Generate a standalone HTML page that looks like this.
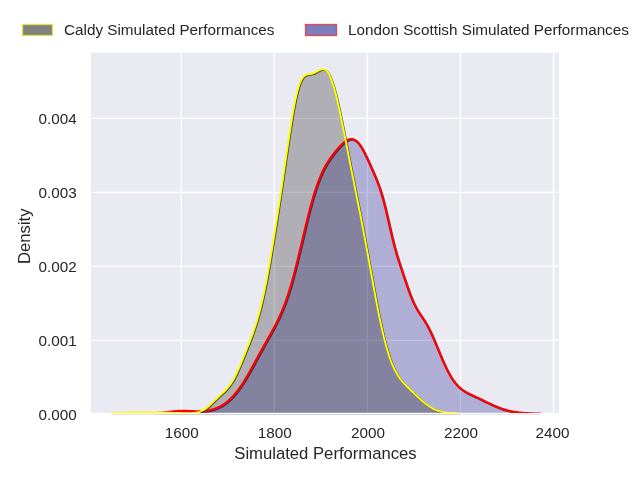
<!DOCTYPE html>
<html><head><meta charset="utf-8"><style>
html,body{margin:0;padding:0;background:#fff;width:640px;height:480px;overflow:hidden}
svg{display:block;will-change:transform}
.t{font-family:"Liberation Sans",sans-serif;font-size:15.28px;fill:#262626}
.l{font-family:"Liberation Sans",sans-serif;font-size:16.67px;fill:#262626}
</style></head><body>
<svg width="640" height="480" viewBox="0 0 640 480">
<defs>
<clipPath id="ax"><rect x="91" y="52.8" width="468" height="360.0"/></clipPath>
<clipPath id="axl"><rect x="91" y="52.8" width="468" height="360.1"/></clipPath>
<clipPath id="strip"><rect x="91" y="414.0" width="468" height="1.0"/></clipPath>
</defs>
<rect x="91" y="52.8" width="468" height="360.0" fill="#eaeaf2"/>
<line x1="181.2" y1="52.8" x2="181.2" y2="412.8" stroke="#fff" stroke-width="1.39"/><line x1="274.3" y1="52.8" x2="274.3" y2="412.8" stroke="#fff" stroke-width="1.39"/><line x1="367.4" y1="52.8" x2="367.4" y2="412.8" stroke="#fff" stroke-width="1.39"/><line x1="460.5" y1="52.8" x2="460.5" y2="412.8" stroke="#fff" stroke-width="1.39"/><line x1="553.6" y1="52.8" x2="553.6" y2="412.8" stroke="#fff" stroke-width="1.39"/><line x1="91" y1="340.4" x2="559" y2="340.4" stroke="#fff" stroke-width="1.39"/><line x1="91" y1="266.4" x2="559" y2="266.4" stroke="#fff" stroke-width="1.39"/><line x1="91" y1="192.4" x2="559" y2="192.4" stroke="#fff" stroke-width="1.39"/><line x1="91" y1="118.4" x2="559" y2="118.4" stroke="#fff" stroke-width="1.39"/>
<g clip-path="url(#ax)">
<path d="M153.75,413.14 L154.25,413.12 L154.75,413.09 L155.25,413.07 L155.75,413.05 L156.25,413.02 L156.75,413.00 L157.25,412.97 L157.75,412.94 L158.25,412.91 L158.75,412.87 L159.25,412.84 L159.75,412.80 L160.25,412.77 L160.75,412.73 L161.25,412.69 L161.75,412.65 L162.25,412.60 L162.75,412.56 L163.25,412.51 L163.75,412.46 L164.25,412.41 L164.75,412.36 L165.25,412.31 L165.75,412.26 L166.25,412.20 L166.75,412.15 L167.25,412.09 L167.75,412.04 L168.25,411.98 L168.75,411.92 L169.25,411.86 L169.75,411.80 L170.25,411.75 L170.75,411.69 L171.25,411.63 L171.75,411.57 L172.25,411.52 L172.75,411.46 L173.25,411.41 L173.75,411.36 L174.25,411.31 L174.75,411.26 L175.25,411.21 L175.75,411.17 L176.25,411.12 L176.75,411.08 L177.25,411.05 L177.75,411.01 L178.25,410.98 L178.75,410.95 L179.25,410.93 L179.75,410.90 L180.25,410.88 L180.75,410.87 L181.25,410.85 L181.75,410.84 L182.25,410.84 L182.75,410.83 L183.25,410.83 L183.75,410.84 L184.25,410.84 L184.75,410.85 L185.25,410.86 L185.75,410.87 L186.25,410.89 L186.75,410.90 L187.25,410.92 L187.75,410.94 L188.25,410.96 L188.75,410.99 L189.25,411.01 L189.75,411.04 L190.25,411.06 L190.75,411.09 L191.25,411.11 L191.75,411.14 L192.25,411.16 L192.75,411.18 L193.25,411.21 L193.75,411.23 L194.25,411.25 L194.75,411.26 L195.25,411.28 L195.75,411.29 L196.25,411.30 L196.75,411.31 L197.25,411.32 L197.75,411.32 L198.25,411.32 L198.75,411.32 L199.25,411.31 L199.75,411.30 L200.25,411.29 L200.75,411.27 L201.25,411.25 L201.75,411.22 L202.25,411.19 L202.75,411.16 L203.25,411.12 L203.75,411.07 L204.25,411.02 L204.75,410.97 L205.25,410.91 L205.75,410.85 L206.25,410.78 L206.75,410.71 L207.25,410.63 L207.75,410.55 L208.25,410.46 L208.75,410.37 L209.25,410.27 L209.75,410.16 L210.25,410.05 L210.75,409.93 L211.25,409.81 L211.75,409.68 L212.25,409.54 L212.75,409.40 L213.25,409.25 L213.75,409.09 L214.25,408.93 L214.75,408.76 L215.25,408.58 L215.75,408.40 L216.25,408.21 L216.75,408.01 L217.25,407.80 L217.75,407.58 L218.25,407.36 L218.75,407.13 L219.25,406.88 L219.75,406.63 L220.25,406.38 L220.75,406.11 L221.25,405.83 L221.75,405.54 L222.25,405.25 L222.75,404.94 L223.25,404.62 L223.75,404.30 L224.25,403.96 L224.75,403.61 L225.25,403.26 L225.75,402.89 L226.25,402.51 L226.75,402.12 L227.25,401.71 L227.75,401.30 L228.25,400.87 L228.75,400.44 L229.25,399.99 L229.75,399.53 L230.25,399.05 L230.75,398.57 L231.25,398.07 L231.75,397.56 L232.25,397.04 L232.75,396.51 L233.25,395.96 L233.75,395.40 L234.25,394.83 L234.75,394.25 L235.25,393.65 L235.75,393.04 L236.25,392.42 L236.75,391.79 L237.25,391.14 L237.75,390.49 L238.25,389.82 L238.75,389.14 L239.25,388.44 L239.75,387.74 L240.25,387.02 L240.75,386.30 L241.25,385.56 L241.75,384.81 L242.25,384.05 L242.75,383.28 L243.25,382.50 L243.75,381.71 L244.25,380.92 L244.75,380.11 L245.25,379.29 L245.75,378.47 L246.25,377.63 L246.75,376.79 L247.25,375.94 L247.75,375.08 L248.25,374.22 L248.75,373.35 L249.25,372.48 L249.75,371.59 L250.25,370.71 L250.75,369.82 L251.25,368.92 L251.75,368.02 L252.25,367.12 L252.75,366.21 L253.25,365.30 L253.75,364.39 L254.25,363.47 L254.75,362.56 L255.25,361.64 L255.75,360.72 L256.25,359.80 L256.75,358.88 L257.25,357.96 L257.75,357.05 L258.25,356.13 L258.75,355.21 L259.25,354.30 L259.75,353.38 L260.25,352.47 L260.75,351.56 L261.25,350.65 L261.75,349.74 L262.25,348.83 L262.75,347.93 L263.25,347.03 L263.75,346.13 L264.25,345.23 L264.75,344.34 L265.25,343.44 L265.75,342.55 L266.25,341.66 L266.75,340.77 L267.25,339.88 L267.75,339.00 L268.25,338.11 L268.75,337.22 L269.25,336.33 L269.75,335.44 L270.25,334.55 L270.75,333.65 L271.25,332.75 L271.75,331.85 L272.25,330.94 L272.75,330.03 L273.25,329.11 L273.75,328.18 L274.25,327.25 L274.75,326.31 L275.25,325.35 L275.75,324.39 L276.25,323.42 L276.75,322.43 L277.25,321.43 L277.75,320.41 L278.25,319.38 L278.75,318.33 L279.25,317.27 L279.75,316.18 L280.25,315.08 L280.75,313.95 L281.25,312.81 L281.75,311.64 L282.25,310.45 L282.75,309.23 L283.25,307.99 L283.75,306.72 L284.25,305.43 L284.75,304.11 L285.25,302.76 L285.75,301.38 L286.25,299.97 L286.75,298.54 L287.25,297.07 L287.75,295.57 L288.25,294.05 L288.75,292.49 L289.25,290.90 L289.75,289.28 L290.25,287.62 L290.75,285.94 L291.25,284.23 L291.75,282.49 L292.25,280.72 L292.75,278.91 L293.25,277.09 L293.75,275.23 L294.25,273.35 L294.75,271.44 L295.25,269.50 L295.75,267.55 L296.25,265.57 L296.75,263.57 L297.25,261.55 L297.75,259.51 L298.25,257.45 L298.75,255.38 L299.25,253.30 L299.75,251.21 L300.25,249.10 L300.75,246.99 L301.25,244.87 L301.75,242.75 L302.25,240.62 L302.75,238.50 L303.25,236.37 L303.75,234.25 L304.25,232.14 L304.75,230.03 L305.25,227.94 L305.75,225.85 L306.25,223.78 L306.75,221.72 L307.25,219.68 L307.75,217.66 L308.25,215.66 L308.75,213.68 L309.25,211.72 L309.75,209.80 L310.25,207.89 L310.75,206.02 L311.25,204.17 L311.75,202.36 L312.25,200.58 L312.75,198.83 L313.25,197.11 L313.75,195.43 L314.25,193.78 L314.75,192.17 L315.25,190.60 L315.75,189.06 L316.25,187.55 L316.75,186.09 L317.25,184.66 L317.75,183.26 L318.25,181.91 L318.75,180.59 L319.25,179.30 L319.75,178.05 L320.25,176.84 L320.75,175.65 L321.25,174.50 L321.75,173.39 L322.25,172.30 L322.75,171.25 L323.25,170.22 L323.75,169.23 L324.25,168.26 L324.75,167.32 L325.25,166.40 L325.75,165.51 L326.25,164.64 L326.75,163.79 L327.25,162.96 L327.75,162.16 L328.25,161.37 L328.75,160.60 L329.25,159.84 L329.75,159.10 L330.25,158.38 L330.75,157.67 L331.25,156.97 L331.75,156.28 L332.25,155.61 L332.75,154.94 L333.25,154.29 L333.75,153.64 L334.25,153.00 L334.75,152.37 L335.25,151.76 L335.75,151.14 L336.25,150.54 L336.75,149.95 L337.25,149.36 L337.75,148.78 L338.25,148.21 L338.75,147.65 L339.25,147.10 L339.75,146.56 L340.25,146.03 L340.75,145.51 L341.25,145.00 L341.75,144.50 L342.25,144.02 L342.75,143.56 L343.25,143.11 L343.75,142.68 L344.25,142.26 L344.75,141.87 L345.25,141.49 L345.75,141.14 L346.25,140.81 L346.75,140.50 L347.25,140.22 L347.75,139.97 L348.25,139.75 L348.75,139.55 L349.25,139.39 L349.75,139.26 L350.25,139.16 L350.75,139.10 L351.25,139.07 L351.75,139.08 L352.25,139.13 L352.75,139.21 L353.25,139.34 L353.75,139.50 L354.25,139.71 L354.75,139.96 L355.25,140.26 L355.75,140.59 L356.25,140.97 L356.75,141.39 L357.25,141.85 L357.75,142.36 L358.25,142.91 L358.75,143.50 L359.25,144.13 L359.75,144.80 L360.25,145.51 L360.75,146.26 L361.25,147.04 L361.75,147.86 L362.25,148.71 L362.75,149.60 L363.25,150.51 L363.75,151.45 L364.25,152.41 L364.75,153.40 L365.25,154.41 L365.75,155.44 L366.25,156.49 L366.75,157.55 L367.25,158.62 L367.75,159.71 L368.25,160.80 L368.75,161.90 L369.25,163.00 L369.75,164.11 L370.25,165.23 L370.75,166.35 L371.25,167.47 L371.75,168.59 L372.25,169.72 L372.75,170.85 L373.25,171.99 L373.75,173.14 L374.25,174.29 L374.75,175.46 L375.25,176.64 L375.75,177.84 L376.25,179.06 L376.75,180.30 L377.25,181.57 L377.75,182.87 L378.25,184.20 L378.75,185.57 L379.25,186.98 L379.75,188.44 L380.25,189.93 L380.75,191.48 L381.25,193.08 L381.75,194.73 L382.25,196.43 L382.75,198.18 L383.25,199.99 L383.75,201.85 L384.25,203.76 L384.75,205.72 L385.25,207.72 L385.75,209.76 L386.25,211.84 L386.75,213.95 L387.25,216.09 L387.75,218.25 L388.25,220.43 L388.75,222.61 L389.25,224.80 L389.75,226.98 L390.25,229.16 L390.75,231.31 L391.25,233.45 L391.75,235.57 L392.25,237.65 L392.75,239.69 L393.25,241.70 L393.75,243.67 L394.25,245.60 L394.75,247.48 L395.25,249.32 L395.75,251.12 L396.25,252.87 L396.75,254.59 L397.25,256.26 L397.75,257.90 L398.25,259.51 L398.75,261.09 L399.25,262.65 L399.75,264.18 L400.25,265.70 L400.75,267.20 L401.25,268.70 L401.75,270.18 L402.25,271.66 L402.75,273.14 L403.25,274.61 L403.75,276.09 L404.25,277.56 L404.75,279.04 L405.25,280.51 L405.75,281.98 L406.25,283.45 L406.75,284.91 L407.25,286.36 L407.75,287.80 L408.25,289.22 L408.75,290.62 L409.25,292.01 L409.75,293.37 L410.25,294.70 L410.75,296.00 L411.25,297.27 L411.75,298.50 L412.25,299.70 L412.75,300.86 L413.25,301.99 L413.75,303.07 L414.25,304.12 L414.75,305.13 L415.25,306.11 L415.75,307.05 L416.25,307.96 L416.75,308.84 L417.25,309.69 L417.75,310.52 L418.25,311.32 L418.75,312.11 L419.25,312.88 L419.75,313.64 L420.25,314.39 L420.75,315.13 L421.25,315.88 L421.75,316.62 L422.25,317.37 L422.75,318.12 L423.25,318.88 L423.75,319.65 L424.25,320.44 L424.75,321.24 L425.25,322.06 L425.75,322.89 L426.25,323.75 L426.75,324.63 L427.25,325.52 L427.75,326.44 L428.25,327.38 L428.75,328.34 L429.25,329.33 L429.75,330.33 L430.25,331.36 L430.75,332.40 L431.25,333.47 L431.75,334.56 L432.25,335.66 L432.75,336.78 L433.25,337.91 L433.75,339.06 L434.25,340.23 L434.75,341.40 L435.25,342.59 L435.75,343.78 L436.25,344.98 L436.75,346.19 L437.25,347.39 L437.75,348.61 L438.25,349.82 L438.75,351.03 L439.25,352.24 L439.75,353.45 L440.25,354.65 L440.75,355.84 L441.25,357.03 L441.75,358.21 L442.25,359.37 L442.75,360.52 L443.25,361.66 L443.75,362.79 L444.25,363.90 L444.75,364.99 L445.25,366.07 L445.75,367.12 L446.25,368.16 L446.75,369.18 L447.25,370.17 L447.75,371.14 L448.25,372.10 L448.75,373.03 L449.25,373.93 L449.75,374.82 L450.25,375.68 L450.75,376.51 L451.25,377.32 L451.75,378.11 L452.25,378.88 L452.75,379.62 L453.25,380.34 L453.75,381.03 L454.25,381.70 L454.75,382.35 L455.25,382.98 L455.75,383.58 L456.25,384.17 L456.75,384.73 L457.25,385.27 L457.75,385.79 L458.25,386.29 L458.75,386.78 L459.25,387.25 L459.75,387.69 L460.25,388.13 L460.75,388.54 L461.25,388.95 L461.75,389.33 L462.25,389.71 L462.75,390.07 L463.25,390.41 L463.75,390.75 L464.25,391.08 L464.75,391.39 L465.25,391.70 L465.75,391.99 L466.25,392.28 L466.75,392.56 L467.25,392.84 L467.75,393.11 L468.25,393.37 L468.75,393.63 L469.25,393.88 L469.75,394.13 L470.25,394.37 L470.75,394.61 L471.25,394.85 L471.75,395.09 L472.25,395.33 L472.75,395.56 L473.25,395.79 L473.75,396.02 L474.25,396.25 L474.75,396.48 L475.25,396.71 L475.75,396.94 L476.25,397.18 L476.75,397.41 L477.25,397.64 L477.75,397.87 L478.25,398.10 L478.75,398.34 L479.25,398.57 L479.75,398.81 L480.25,399.04 L480.75,399.28 L481.25,399.52 L481.75,399.76 L482.25,400.00 L482.75,400.24 L483.25,400.48 L483.75,400.72 L484.25,400.96 L484.75,401.21 L485.25,401.45 L485.75,401.69 L486.25,401.93 L486.75,402.18 L487.25,402.42 L487.75,402.66 L488.25,402.90 L488.75,403.14 L489.25,403.38 L489.75,403.62 L490.25,403.86 L490.75,404.09 L491.25,404.33 L491.75,404.56 L492.25,404.79 L492.75,405.02 L493.25,405.25 L493.75,405.47 L494.25,405.69 L494.75,405.91 L495.25,406.13 L495.75,406.35 L496.25,406.56 L496.75,406.77 L497.25,406.97 L497.75,407.17 L498.25,407.37 L498.75,407.57 L499.25,407.76 L499.75,407.95 L500.25,408.14 L500.75,408.32 L501.25,408.50 L501.75,408.67 L502.25,408.84 L502.75,409.01 L503.25,409.17 L503.75,409.33 L504.25,409.49 L504.75,409.64 L505.25,409.79 L505.75,409.93 L506.25,410.07 L506.75,410.21 L507.25,410.34 L507.75,410.47 L508.25,410.60 L508.75,410.72 L509.25,410.84 L509.75,410.96 L510.25,411.07 L510.75,411.17 L511.25,411.28 L511.75,411.38 L512.25,411.48 L512.75,411.57 L513.25,411.66 L513.75,411.75 L514.25,411.84 L514.75,411.92 L515.25,412.00 L515.75,412.07 L516.25,412.15 L516.75,412.22 L517.25,412.29 L517.75,412.35 L518.25,412.42 L518.75,412.48 L519.25,412.53 L519.75,412.59 L520.25,412.64 L520.75,412.69 L521.25,412.74 L521.75,412.79 L522.25,412.84 L522.75,412.88 L523.25,412.92 L523.75,412.96 L524.25,413.00 L524.75,413.04 L525.25,413.07 L525.75,413.10 L526.25,413.14 L526.75,413.17 L527.25,413.20 L527.75,413.22 L528.25,413.25 L528.75,413.28 L529.25,413.30 L529.75,413.32 L530.25,413.35 L530.75,413.37 L531.25,413.39 L531.75,413.41 L532.25,413.43 L532.75,413.44 L533.25,413.46 L533.75,413.48 L534.25,413.49 L534.75,413.51 L535.25,413.52 L535.75,413.54 L536.25,413.55 L536.75,413.56 L537.25,413.57 L537.75,413.58 L538.25,413.60 L538.75,413.61 L539.25,413.62 L539.75,413.63 L540.25,413.64 L540.75,413.65 L541,415.3 L154,415.3 Z" fill="#000080" fill-opacity="0.25"/>
<path d="M110.75,413.14 L111.25,413.13 L111.75,413.11 L112.25,413.10 L112.75,413.08 L113.25,413.07 L113.75,413.05 L114.25,413.03 L114.75,413.02 L115.25,413.00 L115.75,412.99 L116.25,412.97 L116.75,412.96 L117.25,412.94 L117.75,412.93 L118.25,412.91 L118.75,412.90 L119.25,412.88 L119.75,412.87 L120.25,412.85 L120.75,412.84 L121.25,412.82 L121.75,412.81 L122.25,412.80 L122.75,412.78 L123.25,412.77 L123.75,412.75 L124.25,412.74 L124.75,412.73 L125.25,412.71 L125.75,412.70 L126.25,412.69 L126.75,412.68 L127.25,412.66 L127.75,412.65 L128.25,412.64 L128.75,412.63 L129.25,412.62 L129.75,412.61 L130.25,412.60 L130.75,412.58 L131.25,412.57 L131.75,412.56 L132.25,412.55 L132.75,412.55 L133.25,412.54 L133.75,412.53 L134.25,412.52 L134.75,412.51 L135.25,412.50 L135.75,412.49 L136.25,412.49 L136.75,412.48 L137.25,412.47 L137.75,412.47 L138.25,412.46 L138.75,412.46 L139.25,412.45 L139.75,412.44 L140.25,412.44 L140.75,412.44 L141.25,412.43 L141.75,412.43 L142.25,412.42 L142.75,412.42 L143.25,412.42 L143.75,412.42 L144.25,412.41 L144.75,412.41 L145.25,412.41 L145.75,412.41 L146.25,412.41 L146.75,412.41 L147.25,412.41 L147.75,412.41 L148.25,412.41 L148.75,412.41 L149.25,412.41 L149.75,412.42 L150.25,412.42 L150.75,412.42 L151.25,412.42 L151.75,412.43 L152.25,412.43 L152.75,412.44 L153.25,412.44 L153.75,412.44 L154.25,412.45 L154.75,412.46 L155.25,412.46 L155.75,412.47 L156.25,412.47 L156.75,412.48 L157.25,412.49 L157.75,412.50 L158.25,412.50 L158.75,412.51 L159.25,412.52 L159.75,412.53 L160.25,412.54 L160.75,412.55 L161.25,412.56 L161.75,412.57 L162.25,412.58 L162.75,412.59 L163.25,412.60 L163.75,412.61 L164.25,412.62 L164.75,412.63 L165.25,412.64 L165.75,412.65 L166.25,412.66 L166.75,412.68 L167.25,412.69 L167.75,412.70 L168.25,412.72 L168.75,412.73 L169.25,412.74 L169.75,412.75 L170.25,412.77 L170.75,412.78 L171.25,412.80 L171.75,412.81 L172.25,412.82 L172.75,412.84 L173.25,412.85 L173.75,412.87 L174.25,412.88 L174.75,412.90 L175.25,412.91 L175.75,412.93 L176.25,412.94 L176.75,412.96 L177.25,412.97 L177.75,412.99 L178.25,413.00 L178.75,413.02 L179.25,413.03 L179.75,413.05 L180.25,413.06 L180.75,413.07 L181.25,413.09 L181.75,413.10 L182.25,413.11 L182.75,413.13 L183.25,413.14 L183.75,413.15 L184.25,413.16 L184.75,413.17 L185.25,413.18 L185.75,413.19 L186.25,413.20 L186.75,413.20 L187.25,413.21 L187.75,413.21 L188.25,413.21 L188.75,413.21 L189.25,413.20 L189.75,413.20 L190.25,413.18 L190.75,413.17 L191.25,413.15 L191.75,413.13 L192.25,413.10 L192.75,413.07 L193.25,413.03 L193.75,412.99 L194.25,412.94 L194.75,412.88 L195.25,412.81 L195.75,412.74 L196.25,412.66 L196.75,412.56 L197.25,412.46 L197.75,412.34 L198.25,412.22 L198.75,412.08 L199.25,411.93 L199.75,411.77 L200.25,411.59 L200.75,411.39 L201.25,411.19 L201.75,410.97 L202.25,410.73 L202.75,410.47 L203.25,410.20 L203.75,409.92 L204.25,409.61 L204.75,409.30 L205.25,408.96 L205.75,408.61 L206.25,408.25 L206.75,407.87 L207.25,407.47 L207.75,407.06 L208.25,406.64 L208.75,406.21 L209.25,405.76 L209.75,405.31 L210.25,404.84 L210.75,404.37 L211.25,403.89 L211.75,403.41 L212.25,402.92 L212.75,402.42 L213.25,401.93 L213.75,401.43 L214.25,400.93 L214.75,400.44 L215.25,399.94 L215.75,399.45 L216.25,398.96 L216.75,398.48 L217.25,398.00 L217.75,397.52 L218.25,397.05 L218.75,396.58 L219.25,396.12 L219.75,395.65 L220.25,395.20 L220.75,394.74 L221.25,394.29 L221.75,393.83 L222.25,393.38 L222.75,392.92 L223.25,392.45 L223.75,391.99 L224.25,391.51 L224.75,391.03 L225.25,390.53 L225.75,390.02 L226.25,389.50 L226.75,388.96 L227.25,388.41 L227.75,387.83 L228.25,387.23 L228.75,386.61 L229.25,385.97 L229.75,385.30 L230.25,384.61 L230.75,383.88 L231.25,383.13 L231.75,382.36 L232.25,381.55 L232.75,380.72 L233.25,379.85 L233.75,378.96 L234.25,378.04 L234.75,377.10 L235.25,376.12 L235.75,375.13 L236.25,374.10 L236.75,373.06 L237.25,371.99 L237.75,370.90 L238.25,369.79 L238.75,368.66 L239.25,367.51 L239.75,366.35 L240.25,365.18 L240.75,363.99 L241.25,362.80 L241.75,361.59 L242.25,360.38 L242.75,359.16 L243.25,357.93 L243.75,356.70 L244.25,355.46 L244.75,354.22 L245.25,352.97 L245.75,351.72 L246.25,350.47 L246.75,349.22 L247.25,347.96 L247.75,346.70 L248.25,345.43 L248.75,344.15 L249.25,342.87 L249.75,341.58 L250.25,340.28 L250.75,338.97 L251.25,337.65 L251.75,336.31 L252.25,334.95 L252.75,333.57 L253.25,332.18 L253.75,330.76 L254.25,329.31 L254.75,327.83 L255.25,326.33 L255.75,324.79 L256.25,323.21 L256.75,321.60 L257.25,319.95 L257.75,318.25 L258.25,316.51 L258.75,314.73 L259.25,312.90 L259.75,311.02 L260.25,309.09 L260.75,307.11 L261.25,305.08 L261.75,302.99 L262.25,300.85 L262.75,298.66 L263.25,296.41 L263.75,294.11 L264.25,291.76 L264.75,289.35 L265.25,286.89 L265.75,284.39 L266.25,281.83 L266.75,279.22 L267.25,276.57 L267.75,273.88 L268.25,271.14 L268.75,268.35 L269.25,265.53 L269.75,262.68 L270.25,259.78 L270.75,256.86 L271.25,253.90 L271.75,250.91 L272.25,247.89 L272.75,244.85 L273.25,241.78 L273.75,238.69 L274.25,235.58 L274.75,232.45 L275.25,229.29 L275.75,226.12 L276.25,222.93 L276.75,219.73 L277.25,216.50 L277.75,213.26 L278.25,210.01 L278.75,206.74 L279.25,203.45 L279.75,200.15 L280.25,196.83 L280.75,193.49 L281.25,190.15 L281.75,186.78 L282.25,183.41 L282.75,180.02 L283.25,176.62 L283.75,173.21 L284.25,169.79 L284.75,166.36 L285.25,162.94 L285.75,159.51 L286.25,156.08 L286.75,152.66 L287.25,149.25 L287.75,145.85 L288.25,142.47 L288.75,139.12 L289.25,135.80 L289.75,132.51 L290.25,129.27 L290.75,126.07 L291.25,122.93 L291.75,119.85 L292.25,116.84 L292.75,113.91 L293.25,111.06 L293.75,108.29 L294.25,105.62 L294.75,103.05 L295.25,100.58 L295.75,98.23 L296.25,95.98 L296.75,93.86 L297.25,91.85 L297.75,89.96 L298.25,88.20 L298.75,86.56 L299.25,85.04 L299.75,83.65 L300.25,82.38 L300.75,81.22 L301.25,80.18 L301.75,79.24 L302.25,78.42 L302.75,77.69 L303.25,77.06 L303.75,76.51 L304.25,76.04 L304.75,75.65 L305.25,75.32 L305.75,75.05 L306.25,74.83 L306.75,74.66 L307.25,74.51 L307.75,74.40 L308.25,74.31 L308.75,74.23 L309.25,74.16 L309.75,74.09 L310.25,74.01 L310.75,73.94 L311.25,73.84 L311.75,73.74 L312.25,73.62 L312.75,73.47 L313.25,73.31 L313.75,73.13 L314.25,72.93 L314.75,72.70 L315.25,72.46 L315.75,72.21 L316.25,71.94 L316.75,71.66 L317.25,71.38 L317.75,71.09 L318.25,70.80 L318.75,70.52 L319.25,70.26 L319.75,70.01 L320.25,69.78 L320.75,69.58 L321.25,69.42 L321.75,69.29 L322.25,69.20 L322.75,69.16 L323.25,69.18 L323.75,69.25 L324.25,69.39 L324.75,69.59 L325.25,69.86 L325.75,70.20 L326.25,70.62 L326.75,71.11 L327.25,71.69 L327.75,72.35 L328.25,73.09 L328.75,73.92 L329.25,74.83 L329.75,75.83 L330.25,76.91 L330.75,78.08 L331.25,79.33 L331.75,80.67 L332.25,82.08 L332.75,83.58 L333.25,85.15 L333.75,86.80 L334.25,88.53 L334.75,90.32 L335.25,92.18 L335.75,94.11 L336.25,96.09 L336.75,98.14 L337.25,100.24 L337.75,102.39 L338.25,104.59 L338.75,106.84 L339.25,109.12 L339.75,111.45 L340.25,113.80 L340.75,116.19 L341.25,118.61 L341.75,121.06 L342.25,123.52 L342.75,126.00 L343.25,128.50 L343.75,131.02 L344.25,133.54 L344.75,136.08 L345.25,138.62 L345.75,141.16 L346.25,143.71 L346.75,146.26 L347.25,148.81 L347.75,151.36 L348.25,153.91 L348.75,156.45 L349.25,158.99 L349.75,161.53 L350.25,164.06 L350.75,166.59 L351.25,169.11 L351.75,171.63 L352.25,174.14 L352.75,176.65 L353.25,179.16 L353.75,181.66 L354.25,184.16 L354.75,186.67 L355.25,189.17 L355.75,191.67 L356.25,194.17 L356.75,196.68 L357.25,199.19 L357.75,201.70 L358.25,204.22 L358.75,206.75 L359.25,209.28 L359.75,211.83 L360.25,214.38 L360.75,216.95 L361.25,219.52 L361.75,222.11 L362.25,224.71 L362.75,227.32 L363.25,229.95 L363.75,232.59 L364.25,235.24 L364.75,237.91 L365.25,240.58 L365.75,243.28 L366.25,245.98 L366.75,248.70 L367.25,251.42 L367.75,254.16 L368.25,256.90 L368.75,259.66 L369.25,262.42 L369.75,265.18 L370.25,267.95 L370.75,270.72 L371.25,273.49 L371.75,276.26 L372.25,279.02 L372.75,281.78 L373.25,284.53 L373.75,287.27 L374.25,289.99 L374.75,292.70 L375.25,295.40 L375.75,298.07 L376.25,300.73 L376.75,303.36 L377.25,305.96 L377.75,308.54 L378.25,311.09 L378.75,313.60 L379.25,316.08 L379.75,318.52 L380.25,320.93 L380.75,323.29 L381.25,325.62 L381.75,327.89 L382.25,330.13 L382.75,332.32 L383.25,334.46 L383.75,336.55 L384.25,338.59 L384.75,340.59 L385.25,342.53 L385.75,344.42 L386.25,346.26 L386.75,348.04 L387.25,349.78 L387.75,351.46 L388.25,353.09 L388.75,354.66 L389.25,356.19 L389.75,357.66 L390.25,359.09 L390.75,360.46 L391.25,361.79 L391.75,363.07 L392.25,364.30 L392.75,365.49 L393.25,366.63 L393.75,367.73 L394.25,368.79 L394.75,369.81 L395.25,370.79 L395.75,371.73 L396.25,372.64 L396.75,373.51 L397.25,374.35 L397.75,375.17 L398.25,375.95 L398.75,376.70 L399.25,377.43 L399.75,378.13 L400.25,378.82 L400.75,379.48 L401.25,380.12 L401.75,380.74 L402.25,381.35 L402.75,381.94 L403.25,382.52 L403.75,383.08 L404.25,383.63 L404.75,384.18 L405.25,384.71 L405.75,385.24 L406.25,385.76 L406.75,386.27 L407.25,386.78 L407.75,387.28 L408.25,387.78 L408.75,388.27 L409.25,388.76 L409.75,389.25 L410.25,389.74 L410.75,390.23 L411.25,390.71 L411.75,391.20 L412.25,391.68 L412.75,392.16 L413.25,392.65 L413.75,393.13 L414.25,393.61 L414.75,394.09 L415.25,394.57 L415.75,395.04 L416.25,395.52 L416.75,395.99 L417.25,396.47 L417.75,396.94 L418.25,397.41 L418.75,397.87 L419.25,398.34 L419.75,398.80 L420.25,399.26 L420.75,399.71 L421.25,400.16 L421.75,400.60 L422.25,401.04 L422.75,401.47 L423.25,401.90 L423.75,402.32 L424.25,402.74 L424.75,403.15 L425.25,403.55 L425.75,403.94 L426.25,404.33 L426.75,404.71 L427.25,405.08 L427.75,405.44 L428.25,405.80 L428.75,406.14 L429.25,406.48 L429.75,406.81 L430.25,407.13 L430.75,407.44 L431.25,407.74 L431.75,408.03 L432.25,408.31 L432.75,408.58 L433.25,408.84 L433.75,409.10 L434.25,409.34 L434.75,409.57 L435.25,409.80 L435.75,410.01 L436.25,410.22 L436.75,410.41 L437.25,410.60 L437.75,410.78 L438.25,410.95 L438.75,411.11 L439.25,411.26 L439.75,411.41 L440.25,411.54 L440.75,411.67 L441.25,411.79 L441.75,411.90 L442.25,412.01 L442.75,412.10 L443.25,412.20 L443.75,412.28 L444.25,412.36 L444.75,412.43 L445.25,412.50 L445.75,412.56 L446.25,412.61 L446.75,412.66 L447.25,412.71 L447.75,412.75 L448.25,412.79 L448.75,412.82 L449.25,412.85 L449.75,412.88 L450.25,412.90 L450.75,412.92 L451.25,412.94 L451.75,412.96 L452.25,412.98 L452.75,412.99 L453.25,413.00 L453.75,413.01 L454.25,413.02 L454.75,413.03 L455.25,413.04 L455.75,413.05 L456.25,413.06 L456.75,413.07 L457.25,413.08 L457.75,413.09 L458.25,413.10 L458.75,413.11 L459.25,413.12 L459.75,413.13 L460,415.3 L111,415.3 Z" fill="#000" fill-opacity="0.25"/>
</g>
<g clip-path="url(#strip)">
<path d="M110.75,413.14 L111.25,413.13 L111.75,413.11 L112.25,413.10 L112.75,413.08 L113.25,413.07 L113.75,413.05 L114.25,413.03 L114.75,413.02 L115.25,413.00 L115.75,412.99 L116.25,412.97 L116.75,412.96 L117.25,412.94 L117.75,412.93 L118.25,412.91 L118.75,412.90 L119.25,412.88 L119.75,412.87 L120.25,412.85 L120.75,412.84 L121.25,412.82 L121.75,412.81 L122.25,412.80 L122.75,412.78 L123.25,412.77 L123.75,412.75 L124.25,412.74 L124.75,412.73 L125.25,412.71 L125.75,412.70 L126.25,412.69 L126.75,412.68 L127.25,412.66 L127.75,412.65 L128.25,412.64 L128.75,412.63 L129.25,412.62 L129.75,412.61 L130.25,412.60 L130.75,412.58 L131.25,412.57 L131.75,412.56 L132.25,412.55 L132.75,412.55 L133.25,412.54 L133.75,412.53 L134.25,412.52 L134.75,412.51 L135.25,412.50 L135.75,412.49 L136.25,412.49 L136.75,412.48 L137.25,412.47 L137.75,412.47 L138.25,412.46 L138.75,412.46 L139.25,412.45 L139.75,412.44 L140.25,412.44 L140.75,412.44 L141.25,412.43 L141.75,412.43 L142.25,412.42 L142.75,412.42 L143.25,412.42 L143.75,412.42 L144.25,412.41 L144.75,412.41 L145.25,412.41 L145.75,412.41 L146.25,412.41 L146.75,412.41 L147.25,412.41 L147.75,412.41 L148.25,412.41 L148.75,412.41 L149.25,412.41 L149.75,412.42 L150.25,412.42 L150.75,412.42 L151.25,412.42 L151.75,412.43 L152.25,412.43 L152.75,412.44 L153.25,412.44 L153.75,412.44 L154.25,412.45 L154.75,412.46 L155.25,412.46 L155.75,412.47 L156.25,412.47 L156.75,412.48 L157.25,412.49 L157.75,412.50 L158.25,412.50 L158.75,412.51 L159.25,412.52 L159.75,412.53 L160.25,412.54 L160.75,412.55 L161.25,412.56 L161.75,412.57 L162.25,412.58 L162.75,412.59 L163.25,412.60 L163.75,412.61 L164.25,412.62 L164.75,412.63 L165.25,412.64 L165.75,412.65 L166.25,412.66 L166.75,412.68 L167.25,412.69 L167.75,412.70 L168.25,412.72 L168.75,412.73 L169.25,412.74 L169.75,412.75 L170.25,412.77 L170.75,412.78 L171.25,412.80 L171.75,412.81 L172.25,412.82 L172.75,412.84 L173.25,412.85 L173.75,412.87 L174.25,412.88 L174.75,412.90 L175.25,412.91 L175.75,412.93 L176.25,412.94 L176.75,412.96 L177.25,412.97 L177.75,412.99 L178.25,413.00 L178.75,413.02 L179.25,413.03 L179.75,413.05 L180.25,413.06 L180.75,413.07 L181.25,413.09 L181.75,413.10 L182.25,413.11 L182.75,413.13 L183.25,413.14 L183.75,413.15 L184.25,413.16 L184.75,413.17 L185.25,413.18 L185.75,413.19 L186.25,413.20 L186.75,413.20 L187.25,413.21 L187.75,413.21 L188.25,413.21 L188.75,413.21 L189.25,413.20 L189.75,413.20 L190.25,413.18 L190.75,413.17 L191.25,413.15 L191.75,413.13 L192.25,413.10 L192.75,413.07 L193.25,413.03 L193.75,412.99 L194.25,412.94 L194.75,412.88 L195.25,412.81 L195.75,412.74 L196.25,412.66 L196.75,412.56 L197.25,412.46 L197.75,412.34 L198.25,412.22 L198.75,412.08 L199.25,411.93 L199.75,411.77 L200.25,411.59 L200.75,411.39 L201.25,411.19 L201.75,410.97 L202.25,410.73 L202.75,410.47 L203.25,410.20 L203.75,409.92 L204.25,409.61 L204.75,409.30 L205.25,408.96 L205.75,408.61 L206.25,408.25 L206.75,407.87 L207.25,407.47 L207.75,407.06 L208.25,406.64 L208.75,406.21 L209.25,405.76 L209.75,405.31 L210.25,404.84 L210.75,404.37 L211.25,403.89 L211.75,403.41 L212.25,402.92 L212.75,402.42 L213.25,401.93 L213.75,401.43 L214.25,400.93 L214.75,400.44 L215.25,399.94 L215.75,399.45 L216.25,398.96 L216.75,398.48 L217.25,398.00 L217.75,397.52 L218.25,397.05 L218.75,396.58 L219.25,396.12 L219.75,395.65 L220.25,395.20 L220.75,394.74 L221.25,394.29 L221.75,393.83 L222.25,393.38 L222.75,392.92 L223.25,392.45 L223.75,391.99 L224.25,391.51 L224.75,391.03 L225.25,390.53 L225.75,390.02 L226.25,389.50 L226.75,388.96 L227.25,388.41 L227.75,387.83 L228.25,387.23 L228.75,386.61 L229.25,385.97 L229.75,385.30 L230.25,384.61 L230.75,383.88 L231.25,383.13 L231.75,382.36 L232.25,381.55 L232.75,380.72 L233.25,379.85 L233.75,378.96 L234.25,378.04 L234.75,377.10 L235.25,376.12 L235.75,375.13 L236.25,374.10 L236.75,373.06 L237.25,371.99 L237.75,370.90 L238.25,369.79 L238.75,368.66 L239.25,367.51 L239.75,366.35 L240.25,365.18 L240.75,363.99 L241.25,362.80 L241.75,361.59 L242.25,360.38 L242.75,359.16 L243.25,357.93 L243.75,356.70 L244.25,355.46 L244.75,354.22 L245.25,352.97 L245.75,351.72 L246.25,350.47 L246.75,349.22 L247.25,347.96 L247.75,346.70 L248.25,345.43 L248.75,344.15 L249.25,342.87 L249.75,341.58 L250.25,340.28 L250.75,338.97 L251.25,337.65 L251.75,336.31 L252.25,334.95 L252.75,333.57 L253.25,332.18 L253.75,330.76 L254.25,329.31 L254.75,327.83 L255.25,326.33 L255.75,324.79 L256.25,323.21 L256.75,321.60 L257.25,319.95 L257.75,318.25 L258.25,316.51 L258.75,314.73 L259.25,312.90 L259.75,311.02 L260.25,309.09 L260.75,307.11 L261.25,305.08 L261.75,302.99 L262.25,300.85 L262.75,298.66 L263.25,296.41 L263.75,294.11 L264.25,291.76 L264.75,289.35 L265.25,286.89 L265.75,284.39 L266.25,281.83 L266.75,279.22 L267.25,276.57 L267.75,273.88 L268.25,271.14 L268.75,268.35 L269.25,265.53 L269.75,262.68 L270.25,259.78 L270.75,256.86 L271.25,253.90 L271.75,250.91 L272.25,247.89 L272.75,244.85 L273.25,241.78 L273.75,238.69 L274.25,235.58 L274.75,232.45 L275.25,229.29 L275.75,226.12 L276.25,222.93 L276.75,219.73 L277.25,216.50 L277.75,213.26 L278.25,210.01 L278.75,206.74 L279.25,203.45 L279.75,200.15 L280.25,196.83 L280.75,193.49 L281.25,190.15 L281.75,186.78 L282.25,183.41 L282.75,180.02 L283.25,176.62 L283.75,173.21 L284.25,169.79 L284.75,166.36 L285.25,162.94 L285.75,159.51 L286.25,156.08 L286.75,152.66 L287.25,149.25 L287.75,145.85 L288.25,142.47 L288.75,139.12 L289.25,135.80 L289.75,132.51 L290.25,129.27 L290.75,126.07 L291.25,122.93 L291.75,119.85 L292.25,116.84 L292.75,113.91 L293.25,111.06 L293.75,108.29 L294.25,105.62 L294.75,103.05 L295.25,100.58 L295.75,98.23 L296.25,95.98 L296.75,93.86 L297.25,91.85 L297.75,89.96 L298.25,88.20 L298.75,86.56 L299.25,85.04 L299.75,83.65 L300.25,82.38 L300.75,81.22 L301.25,80.18 L301.75,79.24 L302.25,78.42 L302.75,77.69 L303.25,77.06 L303.75,76.51 L304.25,76.04 L304.75,75.65 L305.25,75.32 L305.75,75.05 L306.25,74.83 L306.75,74.66 L307.25,74.51 L307.75,74.40 L308.25,74.31 L308.75,74.23 L309.25,74.16 L309.75,74.09 L310.25,74.01 L310.75,73.94 L311.25,73.84 L311.75,73.74 L312.25,73.62 L312.75,73.47 L313.25,73.31 L313.75,73.13 L314.25,72.93 L314.75,72.70 L315.25,72.46 L315.75,72.21 L316.25,71.94 L316.75,71.66 L317.25,71.38 L317.75,71.09 L318.25,70.80 L318.75,70.52 L319.25,70.26 L319.75,70.01 L320.25,69.78 L320.75,69.58 L321.25,69.42 L321.75,69.29 L322.25,69.20 L322.75,69.16 L323.25,69.18 L323.75,69.25 L324.25,69.39 L324.75,69.59 L325.25,69.86 L325.75,70.20 L326.25,70.62 L326.75,71.11 L327.25,71.69 L327.75,72.35 L328.25,73.09 L328.75,73.92 L329.25,74.83 L329.75,75.83 L330.25,76.91 L330.75,78.08 L331.25,79.33 L331.75,80.67 L332.25,82.08 L332.75,83.58 L333.25,85.15 L333.75,86.80 L334.25,88.53 L334.75,90.32 L335.25,92.18 L335.75,94.11 L336.25,96.09 L336.75,98.14 L337.25,100.24 L337.75,102.39 L338.25,104.59 L338.75,106.84 L339.25,109.12 L339.75,111.45 L340.25,113.80 L340.75,116.19 L341.25,118.61 L341.75,121.06 L342.25,123.52 L342.75,126.00 L343.25,128.50 L343.75,131.02 L344.25,133.54 L344.75,136.08 L345.25,138.62 L345.75,141.16 L346.25,143.71 L346.75,146.26 L347.25,148.81 L347.75,151.36 L348.25,153.91 L348.75,156.45 L349.25,158.99 L349.75,161.53 L350.25,164.06 L350.75,166.59 L351.25,169.11 L351.75,171.63 L352.25,174.14 L352.75,176.65 L353.25,179.16 L353.75,181.66 L354.25,184.16 L354.75,186.67 L355.25,189.17 L355.75,191.67 L356.25,194.17 L356.75,196.68 L357.25,199.19 L357.75,201.70 L358.25,204.22 L358.75,206.75 L359.25,209.28 L359.75,211.83 L360.25,214.38 L360.75,216.95 L361.25,219.52 L361.75,222.11 L362.25,224.71 L362.75,227.32 L363.25,229.95 L363.75,232.59 L364.25,235.24 L364.75,237.91 L365.25,240.58 L365.75,243.28 L366.25,245.98 L366.75,248.70 L367.25,251.42 L367.75,254.16 L368.25,256.90 L368.75,259.66 L369.25,262.42 L369.75,265.18 L370.25,267.95 L370.75,270.72 L371.25,273.49 L371.75,276.26 L372.25,279.02 L372.75,281.78 L373.25,284.53 L373.75,287.27 L374.25,289.99 L374.75,292.70 L375.25,295.40 L375.75,298.07 L376.25,300.73 L376.75,303.36 L377.25,305.96 L377.75,308.54 L378.25,311.09 L378.75,313.60 L379.25,316.08 L379.75,318.52 L380.25,320.93 L380.75,323.29 L381.25,325.62 L381.75,327.89 L382.25,330.13 L382.75,332.32 L383.25,334.46 L383.75,336.55 L384.25,338.59 L384.75,340.59 L385.25,342.53 L385.75,344.42 L386.25,346.26 L386.75,348.04 L387.25,349.78 L387.75,351.46 L388.25,353.09 L388.75,354.66 L389.25,356.19 L389.75,357.66 L390.25,359.09 L390.75,360.46 L391.25,361.79 L391.75,363.07 L392.25,364.30 L392.75,365.49 L393.25,366.63 L393.75,367.73 L394.25,368.79 L394.75,369.81 L395.25,370.79 L395.75,371.73 L396.25,372.64 L396.75,373.51 L397.25,374.35 L397.75,375.17 L398.25,375.95 L398.75,376.70 L399.25,377.43 L399.75,378.13 L400.25,378.82 L400.75,379.48 L401.25,380.12 L401.75,380.74 L402.25,381.35 L402.75,381.94 L403.25,382.52 L403.75,383.08 L404.25,383.63 L404.75,384.18 L405.25,384.71 L405.75,385.24 L406.25,385.76 L406.75,386.27 L407.25,386.78 L407.75,387.28 L408.25,387.78 L408.75,388.27 L409.25,388.76 L409.75,389.25 L410.25,389.74 L410.75,390.23 L411.25,390.71 L411.75,391.20 L412.25,391.68 L412.75,392.16 L413.25,392.65 L413.75,393.13 L414.25,393.61 L414.75,394.09 L415.25,394.57 L415.75,395.04 L416.25,395.52 L416.75,395.99 L417.25,396.47 L417.75,396.94 L418.25,397.41 L418.75,397.87 L419.25,398.34 L419.75,398.80 L420.25,399.26 L420.75,399.71 L421.25,400.16 L421.75,400.60 L422.25,401.04 L422.75,401.47 L423.25,401.90 L423.75,402.32 L424.25,402.74 L424.75,403.15 L425.25,403.55 L425.75,403.94 L426.25,404.33 L426.75,404.71 L427.25,405.08 L427.75,405.44 L428.25,405.80 L428.75,406.14 L429.25,406.48 L429.75,406.81 L430.25,407.13 L430.75,407.44 L431.25,407.74 L431.75,408.03 L432.25,408.31 L432.75,408.58 L433.25,408.84 L433.75,409.10 L434.25,409.34 L434.75,409.57 L435.25,409.80 L435.75,410.01 L436.25,410.22 L436.75,410.41 L437.25,410.60 L437.75,410.78 L438.25,410.95 L438.75,411.11 L439.25,411.26 L439.75,411.41 L440.25,411.54 L440.75,411.67 L441.25,411.79 L441.75,411.90 L442.25,412.01 L442.75,412.10 L443.25,412.20 L443.75,412.28 L444.25,412.36 L444.75,412.43 L445.25,412.50 L445.75,412.56 L446.25,412.61 L446.75,412.66 L447.25,412.71 L447.75,412.75 L448.25,412.79 L448.75,412.82 L449.25,412.85 L449.75,412.88 L450.25,412.90 L450.75,412.92 L451.25,412.94 L451.75,412.96 L452.25,412.98 L452.75,412.99 L453.25,413.00 L453.75,413.01 L454.25,413.02 L454.75,413.03 L455.25,413.04 L455.75,413.05 L456.25,413.06 L456.75,413.07 L457.25,413.08 L457.75,413.09 L458.25,413.10 L458.75,413.11 L459.25,413.12 L459.75,413.13 L460,415.3 L111,415.3 Z" fill="#000" fill-opacity="0.1"/>
<path d="M153.75,413.14 L154.25,413.12 L154.75,413.09 L155.25,413.07 L155.75,413.05 L156.25,413.02 L156.75,413.00 L157.25,412.97 L157.75,412.94 L158.25,412.91 L158.75,412.87 L159.25,412.84 L159.75,412.80 L160.25,412.77 L160.75,412.73 L161.25,412.69 L161.75,412.65 L162.25,412.60 L162.75,412.56 L163.25,412.51 L163.75,412.46 L164.25,412.41 L164.75,412.36 L165.25,412.31 L165.75,412.26 L166.25,412.20 L166.75,412.15 L167.25,412.09 L167.75,412.04 L168.25,411.98 L168.75,411.92 L169.25,411.86 L169.75,411.80 L170.25,411.75 L170.75,411.69 L171.25,411.63 L171.75,411.57 L172.25,411.52 L172.75,411.46 L173.25,411.41 L173.75,411.36 L174.25,411.31 L174.75,411.26 L175.25,411.21 L175.75,411.17 L176.25,411.12 L176.75,411.08 L177.25,411.05 L177.75,411.01 L178.25,410.98 L178.75,410.95 L179.25,410.93 L179.75,410.90 L180.25,410.88 L180.75,410.87 L181.25,410.85 L181.75,410.84 L182.25,410.84 L182.75,410.83 L183.25,410.83 L183.75,410.84 L184.25,410.84 L184.75,410.85 L185.25,410.86 L185.75,410.87 L186.25,410.89 L186.75,410.90 L187.25,410.92 L187.75,410.94 L188.25,410.96 L188.75,410.99 L189.25,411.01 L189.75,411.04 L190.25,411.06 L190.75,411.09 L191.25,411.11 L191.75,411.14 L192.25,411.16 L192.75,411.18 L193.25,411.21 L193.75,411.23 L194.25,411.25 L194.75,411.26 L195.25,411.28 L195.75,411.29 L196.25,411.30 L196.75,411.31 L197.25,411.32 L197.75,411.32 L198.25,411.32 L198.75,411.32 L199.25,411.31 L199.75,411.30 L200.25,411.29 L200.75,411.27 L201.25,411.25 L201.75,411.22 L202.25,411.19 L202.75,411.16 L203.25,411.12 L203.75,411.07 L204.25,411.02 L204.75,410.97 L205.25,410.91 L205.75,410.85 L206.25,410.78 L206.75,410.71 L207.25,410.63 L207.75,410.55 L208.25,410.46 L208.75,410.37 L209.25,410.27 L209.75,410.16 L210.25,410.05 L210.75,409.93 L211.25,409.81 L211.75,409.68 L212.25,409.54 L212.75,409.40 L213.25,409.25 L213.75,409.09 L214.25,408.93 L214.75,408.76 L215.25,408.58 L215.75,408.40 L216.25,408.21 L216.75,408.01 L217.25,407.80 L217.75,407.58 L218.25,407.36 L218.75,407.13 L219.25,406.88 L219.75,406.63 L220.25,406.38 L220.75,406.11 L221.25,405.83 L221.75,405.54 L222.25,405.25 L222.75,404.94 L223.25,404.62 L223.75,404.30 L224.25,403.96 L224.75,403.61 L225.25,403.26 L225.75,402.89 L226.25,402.51 L226.75,402.12 L227.25,401.71 L227.75,401.30 L228.25,400.87 L228.75,400.44 L229.25,399.99 L229.75,399.53 L230.25,399.05 L230.75,398.57 L231.25,398.07 L231.75,397.56 L232.25,397.04 L232.75,396.51 L233.25,395.96 L233.75,395.40 L234.25,394.83 L234.75,394.25 L235.25,393.65 L235.75,393.04 L236.25,392.42 L236.75,391.79 L237.25,391.14 L237.75,390.49 L238.25,389.82 L238.75,389.14 L239.25,388.44 L239.75,387.74 L240.25,387.02 L240.75,386.30 L241.25,385.56 L241.75,384.81 L242.25,384.05 L242.75,383.28 L243.25,382.50 L243.75,381.71 L244.25,380.92 L244.75,380.11 L245.25,379.29 L245.75,378.47 L246.25,377.63 L246.75,376.79 L247.25,375.94 L247.75,375.08 L248.25,374.22 L248.75,373.35 L249.25,372.48 L249.75,371.59 L250.25,370.71 L250.75,369.82 L251.25,368.92 L251.75,368.02 L252.25,367.12 L252.75,366.21 L253.25,365.30 L253.75,364.39 L254.25,363.47 L254.75,362.56 L255.25,361.64 L255.75,360.72 L256.25,359.80 L256.75,358.88 L257.25,357.96 L257.75,357.05 L258.25,356.13 L258.75,355.21 L259.25,354.30 L259.75,353.38 L260.25,352.47 L260.75,351.56 L261.25,350.65 L261.75,349.74 L262.25,348.83 L262.75,347.93 L263.25,347.03 L263.75,346.13 L264.25,345.23 L264.75,344.34 L265.25,343.44 L265.75,342.55 L266.25,341.66 L266.75,340.77 L267.25,339.88 L267.75,339.00 L268.25,338.11 L268.75,337.22 L269.25,336.33 L269.75,335.44 L270.25,334.55 L270.75,333.65 L271.25,332.75 L271.75,331.85 L272.25,330.94 L272.75,330.03 L273.25,329.11 L273.75,328.18 L274.25,327.25 L274.75,326.31 L275.25,325.35 L275.75,324.39 L276.25,323.42 L276.75,322.43 L277.25,321.43 L277.75,320.41 L278.25,319.38 L278.75,318.33 L279.25,317.27 L279.75,316.18 L280.25,315.08 L280.75,313.95 L281.25,312.81 L281.75,311.64 L282.25,310.45 L282.75,309.23 L283.25,307.99 L283.75,306.72 L284.25,305.43 L284.75,304.11 L285.25,302.76 L285.75,301.38 L286.25,299.97 L286.75,298.54 L287.25,297.07 L287.75,295.57 L288.25,294.05 L288.75,292.49 L289.25,290.90 L289.75,289.28 L290.25,287.62 L290.75,285.94 L291.25,284.23 L291.75,282.49 L292.25,280.72 L292.75,278.91 L293.25,277.09 L293.75,275.23 L294.25,273.35 L294.75,271.44 L295.25,269.50 L295.75,267.55 L296.25,265.57 L296.75,263.57 L297.25,261.55 L297.75,259.51 L298.25,257.45 L298.75,255.38 L299.25,253.30 L299.75,251.21 L300.25,249.10 L300.75,246.99 L301.25,244.87 L301.75,242.75 L302.25,240.62 L302.75,238.50 L303.25,236.37 L303.75,234.25 L304.25,232.14 L304.75,230.03 L305.25,227.94 L305.75,225.85 L306.25,223.78 L306.75,221.72 L307.25,219.68 L307.75,217.66 L308.25,215.66 L308.75,213.68 L309.25,211.72 L309.75,209.80 L310.25,207.89 L310.75,206.02 L311.25,204.17 L311.75,202.36 L312.25,200.58 L312.75,198.83 L313.25,197.11 L313.75,195.43 L314.25,193.78 L314.75,192.17 L315.25,190.60 L315.75,189.06 L316.25,187.55 L316.75,186.09 L317.25,184.66 L317.75,183.26 L318.25,181.91 L318.75,180.59 L319.25,179.30 L319.75,178.05 L320.25,176.84 L320.75,175.65 L321.25,174.50 L321.75,173.39 L322.25,172.30 L322.75,171.25 L323.25,170.22 L323.75,169.23 L324.25,168.26 L324.75,167.32 L325.25,166.40 L325.75,165.51 L326.25,164.64 L326.75,163.79 L327.25,162.96 L327.75,162.16 L328.25,161.37 L328.75,160.60 L329.25,159.84 L329.75,159.10 L330.25,158.38 L330.75,157.67 L331.25,156.97 L331.75,156.28 L332.25,155.61 L332.75,154.94 L333.25,154.29 L333.75,153.64 L334.25,153.00 L334.75,152.37 L335.25,151.76 L335.75,151.14 L336.25,150.54 L336.75,149.95 L337.25,149.36 L337.75,148.78 L338.25,148.21 L338.75,147.65 L339.25,147.10 L339.75,146.56 L340.25,146.03 L340.75,145.51 L341.25,145.00 L341.75,144.50 L342.25,144.02 L342.75,143.56 L343.25,143.11 L343.75,142.68 L344.25,142.26 L344.75,141.87 L345.25,141.49 L345.75,141.14 L346.25,140.81 L346.75,140.50 L347.25,140.22 L347.75,139.97 L348.25,139.75 L348.75,139.55 L349.25,139.39 L349.75,139.26 L350.25,139.16 L350.75,139.10 L351.25,139.07 L351.75,139.08 L352.25,139.13 L352.75,139.21 L353.25,139.34 L353.75,139.50 L354.25,139.71 L354.75,139.96 L355.25,140.26 L355.75,140.59 L356.25,140.97 L356.75,141.39 L357.25,141.85 L357.75,142.36 L358.25,142.91 L358.75,143.50 L359.25,144.13 L359.75,144.80 L360.25,145.51 L360.75,146.26 L361.25,147.04 L361.75,147.86 L362.25,148.71 L362.75,149.60 L363.25,150.51 L363.75,151.45 L364.25,152.41 L364.75,153.40 L365.25,154.41 L365.75,155.44 L366.25,156.49 L366.75,157.55 L367.25,158.62 L367.75,159.71 L368.25,160.80 L368.75,161.90 L369.25,163.00 L369.75,164.11 L370.25,165.23 L370.75,166.35 L371.25,167.47 L371.75,168.59 L372.25,169.72 L372.75,170.85 L373.25,171.99 L373.75,173.14 L374.25,174.29 L374.75,175.46 L375.25,176.64 L375.75,177.84 L376.25,179.06 L376.75,180.30 L377.25,181.57 L377.75,182.87 L378.25,184.20 L378.75,185.57 L379.25,186.98 L379.75,188.44 L380.25,189.93 L380.75,191.48 L381.25,193.08 L381.75,194.73 L382.25,196.43 L382.75,198.18 L383.25,199.99 L383.75,201.85 L384.25,203.76 L384.75,205.72 L385.25,207.72 L385.75,209.76 L386.25,211.84 L386.75,213.95 L387.25,216.09 L387.75,218.25 L388.25,220.43 L388.75,222.61 L389.25,224.80 L389.75,226.98 L390.25,229.16 L390.75,231.31 L391.25,233.45 L391.75,235.57 L392.25,237.65 L392.75,239.69 L393.25,241.70 L393.75,243.67 L394.25,245.60 L394.75,247.48 L395.25,249.32 L395.75,251.12 L396.25,252.87 L396.75,254.59 L397.25,256.26 L397.75,257.90 L398.25,259.51 L398.75,261.09 L399.25,262.65 L399.75,264.18 L400.25,265.70 L400.75,267.20 L401.25,268.70 L401.75,270.18 L402.25,271.66 L402.75,273.14 L403.25,274.61 L403.75,276.09 L404.25,277.56 L404.75,279.04 L405.25,280.51 L405.75,281.98 L406.25,283.45 L406.75,284.91 L407.25,286.36 L407.75,287.80 L408.25,289.22 L408.75,290.62 L409.25,292.01 L409.75,293.37 L410.25,294.70 L410.75,296.00 L411.25,297.27 L411.75,298.50 L412.25,299.70 L412.75,300.86 L413.25,301.99 L413.75,303.07 L414.25,304.12 L414.75,305.13 L415.25,306.11 L415.75,307.05 L416.25,307.96 L416.75,308.84 L417.25,309.69 L417.75,310.52 L418.25,311.32 L418.75,312.11 L419.25,312.88 L419.75,313.64 L420.25,314.39 L420.75,315.13 L421.25,315.88 L421.75,316.62 L422.25,317.37 L422.75,318.12 L423.25,318.88 L423.75,319.65 L424.25,320.44 L424.75,321.24 L425.25,322.06 L425.75,322.89 L426.25,323.75 L426.75,324.63 L427.25,325.52 L427.75,326.44 L428.25,327.38 L428.75,328.34 L429.25,329.33 L429.75,330.33 L430.25,331.36 L430.75,332.40 L431.25,333.47 L431.75,334.56 L432.25,335.66 L432.75,336.78 L433.25,337.91 L433.75,339.06 L434.25,340.23 L434.75,341.40 L435.25,342.59 L435.75,343.78 L436.25,344.98 L436.75,346.19 L437.25,347.39 L437.75,348.61 L438.25,349.82 L438.75,351.03 L439.25,352.24 L439.75,353.45 L440.25,354.65 L440.75,355.84 L441.25,357.03 L441.75,358.21 L442.25,359.37 L442.75,360.52 L443.25,361.66 L443.75,362.79 L444.25,363.90 L444.75,364.99 L445.25,366.07 L445.75,367.12 L446.25,368.16 L446.75,369.18 L447.25,370.17 L447.75,371.14 L448.25,372.10 L448.75,373.03 L449.25,373.93 L449.75,374.82 L450.25,375.68 L450.75,376.51 L451.25,377.32 L451.75,378.11 L452.25,378.88 L452.75,379.62 L453.25,380.34 L453.75,381.03 L454.25,381.70 L454.75,382.35 L455.25,382.98 L455.75,383.58 L456.25,384.17 L456.75,384.73 L457.25,385.27 L457.75,385.79 L458.25,386.29 L458.75,386.78 L459.25,387.25 L459.75,387.69 L460.25,388.13 L460.75,388.54 L461.25,388.95 L461.75,389.33 L462.25,389.71 L462.75,390.07 L463.25,390.41 L463.75,390.75 L464.25,391.08 L464.75,391.39 L465.25,391.70 L465.75,391.99 L466.25,392.28 L466.75,392.56 L467.25,392.84 L467.75,393.11 L468.25,393.37 L468.75,393.63 L469.25,393.88 L469.75,394.13 L470.25,394.37 L470.75,394.61 L471.25,394.85 L471.75,395.09 L472.25,395.33 L472.75,395.56 L473.25,395.79 L473.75,396.02 L474.25,396.25 L474.75,396.48 L475.25,396.71 L475.75,396.94 L476.25,397.18 L476.75,397.41 L477.25,397.64 L477.75,397.87 L478.25,398.10 L478.75,398.34 L479.25,398.57 L479.75,398.81 L480.25,399.04 L480.75,399.28 L481.25,399.52 L481.75,399.76 L482.25,400.00 L482.75,400.24 L483.25,400.48 L483.75,400.72 L484.25,400.96 L484.75,401.21 L485.25,401.45 L485.75,401.69 L486.25,401.93 L486.75,402.18 L487.25,402.42 L487.75,402.66 L488.25,402.90 L488.75,403.14 L489.25,403.38 L489.75,403.62 L490.25,403.86 L490.75,404.09 L491.25,404.33 L491.75,404.56 L492.25,404.79 L492.75,405.02 L493.25,405.25 L493.75,405.47 L494.25,405.69 L494.75,405.91 L495.25,406.13 L495.75,406.35 L496.25,406.56 L496.75,406.77 L497.25,406.97 L497.75,407.17 L498.25,407.37 L498.75,407.57 L499.25,407.76 L499.75,407.95 L500.25,408.14 L500.75,408.32 L501.25,408.50 L501.75,408.67 L502.25,408.84 L502.75,409.01 L503.25,409.17 L503.75,409.33 L504.25,409.49 L504.75,409.64 L505.25,409.79 L505.75,409.93 L506.25,410.07 L506.75,410.21 L507.25,410.34 L507.75,410.47 L508.25,410.60 L508.75,410.72 L509.25,410.84 L509.75,410.96 L510.25,411.07 L510.75,411.17 L511.25,411.28 L511.75,411.38 L512.25,411.48 L512.75,411.57 L513.25,411.66 L513.75,411.75 L514.25,411.84 L514.75,411.92 L515.25,412.00 L515.75,412.07 L516.25,412.15 L516.75,412.22 L517.25,412.29 L517.75,412.35 L518.25,412.42 L518.75,412.48 L519.25,412.53 L519.75,412.59 L520.25,412.64 L520.75,412.69 L521.25,412.74 L521.75,412.79 L522.25,412.84 L522.75,412.88 L523.25,412.92 L523.75,412.96 L524.25,413.00 L524.75,413.04 L525.25,413.07 L525.75,413.10 L526.25,413.14 L526.75,413.17 L527.25,413.20 L527.75,413.22 L528.25,413.25 L528.75,413.28 L529.25,413.30 L529.75,413.32 L530.25,413.35 L530.75,413.37 L531.25,413.39 L531.75,413.41 L532.25,413.43 L532.75,413.44 L533.25,413.46 L533.75,413.48 L534.25,413.49 L534.75,413.51 L535.25,413.52 L535.75,413.54 L536.25,413.55 L536.75,413.56 L537.25,413.57 L537.75,413.58 L538.25,413.60 L538.75,413.61 L539.25,413.62 L539.75,413.63 L540.25,413.64 L540.75,413.65 L541,415.3 L154,415.3 Z" fill="#000080" fill-opacity="0.1"/>
</g>
<g clip-path="url(#axl)" fill="none" stroke-linejoin="round">
<path d="M153.75,413.14 L154.25,413.12 L154.75,413.09 L155.25,413.07 L155.75,413.05 L156.25,413.02 L156.75,413.00 L157.25,412.97 L157.75,412.94 L158.25,412.91 L158.75,412.87 L159.25,412.84 L159.75,412.80 L160.25,412.77 L160.75,412.73 L161.25,412.69 L161.75,412.65 L162.25,412.60 L162.75,412.56 L163.25,412.51 L163.75,412.46 L164.25,412.41 L164.75,412.36 L165.25,412.31 L165.75,412.26 L166.25,412.20 L166.75,412.15 L167.25,412.09 L167.75,412.04 L168.25,411.98 L168.75,411.92 L169.25,411.86 L169.75,411.80 L170.25,411.75 L170.75,411.69 L171.25,411.63 L171.75,411.57 L172.25,411.52 L172.75,411.46 L173.25,411.41 L173.75,411.36 L174.25,411.31 L174.75,411.26 L175.25,411.21 L175.75,411.17 L176.25,411.12 L176.75,411.08 L177.25,411.05 L177.75,411.01 L178.25,410.98 L178.75,410.95 L179.25,410.93 L179.75,410.90 L180.25,410.88 L180.75,410.87 L181.25,410.85 L181.75,410.84 L182.25,410.84 L182.75,410.83 L183.25,410.83 L183.75,410.84 L184.25,410.84 L184.75,410.85 L185.25,410.86 L185.75,410.87 L186.25,410.89 L186.75,410.90 L187.25,410.92 L187.75,410.94 L188.25,410.96 L188.75,410.99 L189.25,411.01 L189.75,411.04 L190.25,411.06 L190.75,411.09 L191.25,411.11 L191.75,411.14 L192.25,411.16 L192.75,411.18 L193.25,411.21 L193.75,411.23 L194.25,411.25 L194.75,411.26 L195.25,411.28 L195.75,411.29 L196.25,411.30 L196.75,411.31 L197.25,411.32 L197.75,411.32 L198.25,411.32 L198.75,411.32 L199.25,411.31 L199.75,411.30 L200.25,411.29 L200.75,411.27 L201.25,411.25 L201.75,411.22 L202.25,411.19 L202.75,411.16 L203.25,411.12 L203.75,411.07 L204.25,411.02 L204.75,410.97 L205.25,410.91 L205.75,410.85 L206.25,410.78 L206.75,410.71 L207.25,410.63 L207.75,410.55 L208.25,410.46 L208.75,410.37 L209.25,410.27 L209.75,410.16 L210.25,410.05 L210.75,409.93 L211.25,409.81 L211.75,409.68 L212.25,409.54 L212.75,409.40 L213.25,409.25 L213.75,409.09 L214.25,408.93 L214.75,408.76 L215.25,408.58 L215.75,408.40 L216.25,408.21 L216.75,408.01 L217.25,407.80 L217.75,407.58 L218.25,407.36 L218.75,407.13 L219.25,406.88 L219.75,406.63 L220.25,406.38 L220.75,406.11 L221.25,405.83 L221.75,405.54 L222.25,405.25 L222.75,404.94 L223.25,404.62 L223.75,404.30 L224.25,403.96 L224.75,403.61 L225.25,403.26 L225.75,402.89 L226.25,402.51 L226.75,402.12 L227.25,401.71 L227.75,401.30 L228.25,400.87 L228.75,400.44 L229.25,399.99 L229.75,399.53 L230.25,399.05 L230.75,398.57 L231.25,398.07 L231.75,397.56 L232.25,397.04 L232.75,396.51 L233.25,395.96 L233.75,395.40 L234.25,394.83 L234.75,394.25 L235.25,393.65 L235.75,393.04 L236.25,392.42 L236.75,391.79 L237.25,391.14 L237.75,390.49 L238.25,389.82 L238.75,389.14 L239.25,388.44 L239.75,387.74 L240.25,387.02 L240.75,386.30 L241.25,385.56 L241.75,384.81 L242.25,384.05 L242.75,383.28 L243.25,382.50 L243.75,381.71 L244.25,380.92 L244.75,380.11 L245.25,379.29 L245.75,378.47 L246.25,377.63 L246.75,376.79 L247.25,375.94 L247.75,375.08 L248.25,374.22 L248.75,373.35 L249.25,372.48 L249.75,371.59 L250.25,370.71 L250.75,369.82 L251.25,368.92 L251.75,368.02 L252.25,367.12 L252.75,366.21 L253.25,365.30 L253.75,364.39 L254.25,363.47 L254.75,362.56 L255.25,361.64 L255.75,360.72 L256.25,359.80 L256.75,358.88 L257.25,357.96 L257.75,357.05 L258.25,356.13 L258.75,355.21 L259.25,354.30 L259.75,353.38 L260.25,352.47 L260.75,351.56 L261.25,350.65 L261.75,349.74 L262.25,348.83 L262.75,347.93 L263.25,347.03 L263.75,346.13 L264.25,345.23 L264.75,344.34 L265.25,343.44 L265.75,342.55 L266.25,341.66 L266.75,340.77 L267.25,339.88 L267.75,339.00 L268.25,338.11 L268.75,337.22 L269.25,336.33 L269.75,335.44 L270.25,334.55 L270.75,333.65 L271.25,332.75 L271.75,331.85 L272.25,330.94 L272.75,330.03 L273.25,329.11 L273.75,328.18 L274.25,327.25 L274.75,326.31 L275.25,325.35 L275.75,324.39 L276.25,323.42 L276.75,322.43 L277.25,321.43 L277.75,320.41 L278.25,319.38 L278.75,318.33 L279.25,317.27 L279.75,316.18 L280.25,315.08 L280.75,313.95 L281.25,312.81 L281.75,311.64 L282.25,310.45 L282.75,309.23 L283.25,307.99 L283.75,306.72 L284.25,305.43 L284.75,304.11 L285.25,302.76 L285.75,301.38 L286.25,299.97 L286.75,298.54 L287.25,297.07 L287.75,295.57 L288.25,294.05 L288.75,292.49 L289.25,290.90 L289.75,289.28 L290.25,287.62 L290.75,285.94 L291.25,284.23 L291.75,282.49 L292.25,280.72 L292.75,278.91 L293.25,277.09 L293.75,275.23 L294.25,273.35 L294.75,271.44 L295.25,269.50 L295.75,267.55 L296.25,265.57 L296.75,263.57 L297.25,261.55 L297.75,259.51 L298.25,257.45 L298.75,255.38 L299.25,253.30 L299.75,251.21 L300.25,249.10 L300.75,246.99 L301.25,244.87 L301.75,242.75 L302.25,240.62 L302.75,238.50 L303.25,236.37 L303.75,234.25 L304.25,232.14 L304.75,230.03 L305.25,227.94 L305.75,225.85 L306.25,223.78 L306.75,221.72 L307.25,219.68 L307.75,217.66 L308.25,215.66 L308.75,213.68 L309.25,211.72 L309.75,209.80 L310.25,207.89 L310.75,206.02 L311.25,204.17 L311.75,202.36 L312.25,200.58 L312.75,198.83 L313.25,197.11 L313.75,195.43 L314.25,193.78 L314.75,192.17 L315.25,190.60 L315.75,189.06 L316.25,187.55 L316.75,186.09 L317.25,184.66 L317.75,183.26 L318.25,181.91 L318.75,180.59 L319.25,179.30 L319.75,178.05 L320.25,176.84 L320.75,175.65 L321.25,174.50 L321.75,173.39 L322.25,172.30 L322.75,171.25 L323.25,170.22 L323.75,169.23 L324.25,168.26 L324.75,167.32 L325.25,166.40 L325.75,165.51 L326.25,164.64 L326.75,163.79 L327.25,162.96 L327.75,162.16 L328.25,161.37 L328.75,160.60 L329.25,159.84 L329.75,159.10 L330.25,158.38 L330.75,157.67 L331.25,156.97 L331.75,156.28 L332.25,155.61 L332.75,154.94 L333.25,154.29 L333.75,153.64 L334.25,153.00 L334.75,152.37 L335.25,151.76 L335.75,151.14 L336.25,150.54 L336.75,149.95 L337.25,149.36 L337.75,148.78 L338.25,148.21 L338.75,147.65 L339.25,147.10 L339.75,146.56 L340.25,146.03 L340.75,145.51 L341.25,145.00 L341.75,144.50 L342.25,144.02 L342.75,143.56 L343.25,143.11 L343.75,142.68 L344.25,142.26 L344.75,141.87 L345.25,141.49 L345.75,141.14 L346.25,140.81 L346.75,140.50 L347.25,140.22 L347.75,139.97 L348.25,139.75 L348.75,139.55 L349.25,139.39 L349.75,139.26 L350.25,139.16 L350.75,139.10 L351.25,139.07 L351.75,139.08 L352.25,139.13 L352.75,139.21 L353.25,139.34 L353.75,139.50 L354.25,139.71 L354.75,139.96 L355.25,140.26 L355.75,140.59 L356.25,140.97 L356.75,141.39 L357.25,141.85 L357.75,142.36 L358.25,142.91 L358.75,143.50 L359.25,144.13 L359.75,144.80 L360.25,145.51 L360.75,146.26 L361.25,147.04 L361.75,147.86 L362.25,148.71 L362.75,149.60 L363.25,150.51 L363.75,151.45 L364.25,152.41 L364.75,153.40 L365.25,154.41 L365.75,155.44 L366.25,156.49 L366.75,157.55 L367.25,158.62 L367.75,159.71 L368.25,160.80 L368.75,161.90 L369.25,163.00 L369.75,164.11 L370.25,165.23 L370.75,166.35 L371.25,167.47 L371.75,168.59 L372.25,169.72 L372.75,170.85 L373.25,171.99 L373.75,173.14 L374.25,174.29 L374.75,175.46 L375.25,176.64 L375.75,177.84 L376.25,179.06 L376.75,180.30 L377.25,181.57 L377.75,182.87 L378.25,184.20 L378.75,185.57 L379.25,186.98 L379.75,188.44 L380.25,189.93 L380.75,191.48 L381.25,193.08 L381.75,194.73 L382.25,196.43 L382.75,198.18 L383.25,199.99 L383.75,201.85 L384.25,203.76 L384.75,205.72 L385.25,207.72 L385.75,209.76 L386.25,211.84 L386.75,213.95 L387.25,216.09 L387.75,218.25 L388.25,220.43 L388.75,222.61 L389.25,224.80 L389.75,226.98 L390.25,229.16 L390.75,231.31 L391.25,233.45 L391.75,235.57 L392.25,237.65 L392.75,239.69 L393.25,241.70 L393.75,243.67 L394.25,245.60 L394.75,247.48 L395.25,249.32 L395.75,251.12 L396.25,252.87 L396.75,254.59 L397.25,256.26 L397.75,257.90 L398.25,259.51 L398.75,261.09 L399.25,262.65 L399.75,264.18 L400.25,265.70 L400.75,267.20 L401.25,268.70 L401.75,270.18 L402.25,271.66 L402.75,273.14 L403.25,274.61 L403.75,276.09 L404.25,277.56 L404.75,279.04 L405.25,280.51 L405.75,281.98 L406.25,283.45 L406.75,284.91 L407.25,286.36 L407.75,287.80 L408.25,289.22 L408.75,290.62 L409.25,292.01 L409.75,293.37 L410.25,294.70 L410.75,296.00 L411.25,297.27 L411.75,298.50 L412.25,299.70 L412.75,300.86 L413.25,301.99 L413.75,303.07 L414.25,304.12 L414.75,305.13 L415.25,306.11 L415.75,307.05 L416.25,307.96 L416.75,308.84 L417.25,309.69 L417.75,310.52 L418.25,311.32 L418.75,312.11 L419.25,312.88 L419.75,313.64 L420.25,314.39 L420.75,315.13 L421.25,315.88 L421.75,316.62 L422.25,317.37 L422.75,318.12 L423.25,318.88 L423.75,319.65 L424.25,320.44 L424.75,321.24 L425.25,322.06 L425.75,322.89 L426.25,323.75 L426.75,324.63 L427.25,325.52 L427.75,326.44 L428.25,327.38 L428.75,328.34 L429.25,329.33 L429.75,330.33 L430.25,331.36 L430.75,332.40 L431.25,333.47 L431.75,334.56 L432.25,335.66 L432.75,336.78 L433.25,337.91 L433.75,339.06 L434.25,340.23 L434.75,341.40 L435.25,342.59 L435.75,343.78 L436.25,344.98 L436.75,346.19 L437.25,347.39 L437.75,348.61 L438.25,349.82 L438.75,351.03 L439.25,352.24 L439.75,353.45 L440.25,354.65 L440.75,355.84 L441.25,357.03 L441.75,358.21 L442.25,359.37 L442.75,360.52 L443.25,361.66 L443.75,362.79 L444.25,363.90 L444.75,364.99 L445.25,366.07 L445.75,367.12 L446.25,368.16 L446.75,369.18 L447.25,370.17 L447.75,371.14 L448.25,372.10 L448.75,373.03 L449.25,373.93 L449.75,374.82 L450.25,375.68 L450.75,376.51 L451.25,377.32 L451.75,378.11 L452.25,378.88 L452.75,379.62 L453.25,380.34 L453.75,381.03 L454.25,381.70 L454.75,382.35 L455.25,382.98 L455.75,383.58 L456.25,384.17 L456.75,384.73 L457.25,385.27 L457.75,385.79 L458.25,386.29 L458.75,386.78 L459.25,387.25 L459.75,387.69 L460.25,388.13 L460.75,388.54 L461.25,388.95 L461.75,389.33 L462.25,389.71 L462.75,390.07 L463.25,390.41 L463.75,390.75 L464.25,391.08 L464.75,391.39 L465.25,391.70 L465.75,391.99 L466.25,392.28 L466.75,392.56 L467.25,392.84 L467.75,393.11 L468.25,393.37 L468.75,393.63 L469.25,393.88 L469.75,394.13 L470.25,394.37 L470.75,394.61 L471.25,394.85 L471.75,395.09 L472.25,395.33 L472.75,395.56 L473.25,395.79 L473.75,396.02 L474.25,396.25 L474.75,396.48 L475.25,396.71 L475.75,396.94 L476.25,397.18 L476.75,397.41 L477.25,397.64 L477.75,397.87 L478.25,398.10 L478.75,398.34 L479.25,398.57 L479.75,398.81 L480.25,399.04 L480.75,399.28 L481.25,399.52 L481.75,399.76 L482.25,400.00 L482.75,400.24 L483.25,400.48 L483.75,400.72 L484.25,400.96 L484.75,401.21 L485.25,401.45 L485.75,401.69 L486.25,401.93 L486.75,402.18 L487.25,402.42 L487.75,402.66 L488.25,402.90 L488.75,403.14 L489.25,403.38 L489.75,403.62 L490.25,403.86 L490.75,404.09 L491.25,404.33 L491.75,404.56 L492.25,404.79 L492.75,405.02 L493.25,405.25 L493.75,405.47 L494.25,405.69 L494.75,405.91 L495.25,406.13 L495.75,406.35 L496.25,406.56 L496.75,406.77 L497.25,406.97 L497.75,407.17 L498.25,407.37 L498.75,407.57 L499.25,407.76 L499.75,407.95 L500.25,408.14 L500.75,408.32 L501.25,408.50 L501.75,408.67 L502.25,408.84 L502.75,409.01 L503.25,409.17 L503.75,409.33 L504.25,409.49 L504.75,409.64 L505.25,409.79 L505.75,409.93 L506.25,410.07 L506.75,410.21 L507.25,410.34 L507.75,410.47 L508.25,410.60 L508.75,410.72 L509.25,410.84 L509.75,410.96 L510.25,411.07 L510.75,411.17 L511.25,411.28 L511.75,411.38 L512.25,411.48 L512.75,411.57 L513.25,411.66 L513.75,411.75 L514.25,411.84 L514.75,411.92 L515.25,412.00 L515.75,412.07 L516.25,412.15 L516.75,412.22 L517.25,412.29 L517.75,412.35 L518.25,412.42 L518.75,412.48 L519.25,412.53 L519.75,412.59 L520.25,412.64 L520.75,412.69 L521.25,412.74 L521.75,412.79 L522.25,412.84 L522.75,412.88 L523.25,412.92 L523.75,412.96 L524.25,413.00 L524.75,413.04 L525.25,413.07 L525.75,413.10 L526.25,413.14 L526.75,413.17 L527.25,413.20 L527.75,413.22 L528.25,413.25 L528.75,413.28 L529.25,413.30 L529.75,413.32 L530.25,413.35 L530.75,413.37 L531.25,413.39 L531.75,413.41 L532.25,413.43 L532.75,413.44 L533.25,413.46 L533.75,413.48 L534.25,413.49 L534.75,413.51 L535.25,413.52 L535.75,413.54 L536.25,413.55 L536.75,413.56 L537.25,413.57 L537.75,413.58 L538.25,413.60 L538.75,413.61 L539.25,413.62 L539.75,413.63 L540.25,413.64 L540.75,413.65" stroke="rgba(50,0,30,0.7)" stroke-width="2.2" transform="translate(0.7,0.7)"/>
<path d="M153.75,413.14 L154.25,413.12 L154.75,413.09 L155.25,413.07 L155.75,413.05 L156.25,413.02 L156.75,413.00 L157.25,412.97 L157.75,412.94 L158.25,412.91 L158.75,412.87 L159.25,412.84 L159.75,412.80 L160.25,412.77 L160.75,412.73 L161.25,412.69 L161.75,412.65 L162.25,412.60 L162.75,412.56 L163.25,412.51 L163.75,412.46 L164.25,412.41 L164.75,412.36 L165.25,412.31 L165.75,412.26 L166.25,412.20 L166.75,412.15 L167.25,412.09 L167.75,412.04 L168.25,411.98 L168.75,411.92 L169.25,411.86 L169.75,411.80 L170.25,411.75 L170.75,411.69 L171.25,411.63 L171.75,411.57 L172.25,411.52 L172.75,411.46 L173.25,411.41 L173.75,411.36 L174.25,411.31 L174.75,411.26 L175.25,411.21 L175.75,411.17 L176.25,411.12 L176.75,411.08 L177.25,411.05 L177.75,411.01 L178.25,410.98 L178.75,410.95 L179.25,410.93 L179.75,410.90 L180.25,410.88 L180.75,410.87 L181.25,410.85 L181.75,410.84 L182.25,410.84 L182.75,410.83 L183.25,410.83 L183.75,410.84 L184.25,410.84 L184.75,410.85 L185.25,410.86 L185.75,410.87 L186.25,410.89 L186.75,410.90 L187.25,410.92 L187.75,410.94 L188.25,410.96 L188.75,410.99 L189.25,411.01 L189.75,411.04 L190.25,411.06 L190.75,411.09 L191.25,411.11 L191.75,411.14 L192.25,411.16 L192.75,411.18 L193.25,411.21 L193.75,411.23 L194.25,411.25 L194.75,411.26 L195.25,411.28 L195.75,411.29 L196.25,411.30 L196.75,411.31 L197.25,411.32 L197.75,411.32 L198.25,411.32 L198.75,411.32 L199.25,411.31 L199.75,411.30 L200.25,411.29 L200.75,411.27 L201.25,411.25 L201.75,411.22 L202.25,411.19 L202.75,411.16 L203.25,411.12 L203.75,411.07 L204.25,411.02 L204.75,410.97 L205.25,410.91 L205.75,410.85 L206.25,410.78 L206.75,410.71 L207.25,410.63 L207.75,410.55 L208.25,410.46 L208.75,410.37 L209.25,410.27 L209.75,410.16 L210.25,410.05 L210.75,409.93 L211.25,409.81 L211.75,409.68 L212.25,409.54 L212.75,409.40 L213.25,409.25 L213.75,409.09 L214.25,408.93 L214.75,408.76 L215.25,408.58 L215.75,408.40 L216.25,408.21 L216.75,408.01 L217.25,407.80 L217.75,407.58 L218.25,407.36 L218.75,407.13 L219.25,406.88 L219.75,406.63 L220.25,406.38 L220.75,406.11 L221.25,405.83 L221.75,405.54 L222.25,405.25 L222.75,404.94 L223.25,404.62 L223.75,404.30 L224.25,403.96 L224.75,403.61 L225.25,403.26 L225.75,402.89 L226.25,402.51 L226.75,402.12 L227.25,401.71 L227.75,401.30 L228.25,400.87 L228.75,400.44 L229.25,399.99 L229.75,399.53 L230.25,399.05 L230.75,398.57 L231.25,398.07 L231.75,397.56 L232.25,397.04 L232.75,396.51 L233.25,395.96 L233.75,395.40 L234.25,394.83 L234.75,394.25 L235.25,393.65 L235.75,393.04 L236.25,392.42 L236.75,391.79 L237.25,391.14 L237.75,390.49 L238.25,389.82 L238.75,389.14 L239.25,388.44 L239.75,387.74 L240.25,387.02 L240.75,386.30 L241.25,385.56 L241.75,384.81 L242.25,384.05 L242.75,383.28 L243.25,382.50 L243.75,381.71 L244.25,380.92 L244.75,380.11 L245.25,379.29 L245.75,378.47 L246.25,377.63 L246.75,376.79 L247.25,375.94 L247.75,375.08 L248.25,374.22 L248.75,373.35 L249.25,372.48 L249.75,371.59 L250.25,370.71 L250.75,369.82 L251.25,368.92 L251.75,368.02 L252.25,367.12 L252.75,366.21 L253.25,365.30 L253.75,364.39 L254.25,363.47 L254.75,362.56 L255.25,361.64 L255.75,360.72 L256.25,359.80 L256.75,358.88 L257.25,357.96 L257.75,357.05 L258.25,356.13 L258.75,355.21 L259.25,354.30 L259.75,353.38 L260.25,352.47 L260.75,351.56 L261.25,350.65 L261.75,349.74 L262.25,348.83 L262.75,347.93 L263.25,347.03 L263.75,346.13 L264.25,345.23 L264.75,344.34 L265.25,343.44 L265.75,342.55 L266.25,341.66 L266.75,340.77 L267.25,339.88 L267.75,339.00 L268.25,338.11 L268.75,337.22 L269.25,336.33 L269.75,335.44 L270.25,334.55 L270.75,333.65 L271.25,332.75 L271.75,331.85 L272.25,330.94 L272.75,330.03 L273.25,329.11 L273.75,328.18 L274.25,327.25 L274.75,326.31 L275.25,325.35 L275.75,324.39 L276.25,323.42 L276.75,322.43 L277.25,321.43 L277.75,320.41 L278.25,319.38 L278.75,318.33 L279.25,317.27 L279.75,316.18 L280.25,315.08 L280.75,313.95 L281.25,312.81 L281.75,311.64 L282.25,310.45 L282.75,309.23 L283.25,307.99 L283.75,306.72 L284.25,305.43 L284.75,304.11 L285.25,302.76 L285.75,301.38 L286.25,299.97 L286.75,298.54 L287.25,297.07 L287.75,295.57 L288.25,294.05 L288.75,292.49 L289.25,290.90 L289.75,289.28 L290.25,287.62 L290.75,285.94 L291.25,284.23 L291.75,282.49 L292.25,280.72 L292.75,278.91 L293.25,277.09 L293.75,275.23 L294.25,273.35 L294.75,271.44 L295.25,269.50 L295.75,267.55 L296.25,265.57 L296.75,263.57 L297.25,261.55 L297.75,259.51 L298.25,257.45 L298.75,255.38 L299.25,253.30 L299.75,251.21 L300.25,249.10 L300.75,246.99 L301.25,244.87 L301.75,242.75 L302.25,240.62 L302.75,238.50 L303.25,236.37 L303.75,234.25 L304.25,232.14 L304.75,230.03 L305.25,227.94 L305.75,225.85 L306.25,223.78 L306.75,221.72 L307.25,219.68 L307.75,217.66 L308.25,215.66 L308.75,213.68 L309.25,211.72 L309.75,209.80 L310.25,207.89 L310.75,206.02 L311.25,204.17 L311.75,202.36 L312.25,200.58 L312.75,198.83 L313.25,197.11 L313.75,195.43 L314.25,193.78 L314.75,192.17 L315.25,190.60 L315.75,189.06 L316.25,187.55 L316.75,186.09 L317.25,184.66 L317.75,183.26 L318.25,181.91 L318.75,180.59 L319.25,179.30 L319.75,178.05 L320.25,176.84 L320.75,175.65 L321.25,174.50 L321.75,173.39 L322.25,172.30 L322.75,171.25 L323.25,170.22 L323.75,169.23 L324.25,168.26 L324.75,167.32 L325.25,166.40 L325.75,165.51 L326.25,164.64 L326.75,163.79 L327.25,162.96 L327.75,162.16 L328.25,161.37 L328.75,160.60 L329.25,159.84 L329.75,159.10 L330.25,158.38 L330.75,157.67 L331.25,156.97 L331.75,156.28 L332.25,155.61 L332.75,154.94 L333.25,154.29 L333.75,153.64 L334.25,153.00 L334.75,152.37 L335.25,151.76 L335.75,151.14 L336.25,150.54 L336.75,149.95 L337.25,149.36 L337.75,148.78 L338.25,148.21 L338.75,147.65 L339.25,147.10 L339.75,146.56 L340.25,146.03 L340.75,145.51 L341.25,145.00 L341.75,144.50 L342.25,144.02 L342.75,143.56 L343.25,143.11 L343.75,142.68 L344.25,142.26 L344.75,141.87 L345.25,141.49 L345.75,141.14 L346.25,140.81 L346.75,140.50 L347.25,140.22 L347.75,139.97 L348.25,139.75 L348.75,139.55 L349.25,139.39 L349.75,139.26 L350.25,139.16 L350.75,139.10 L351.25,139.07 L351.75,139.08 L352.25,139.13 L352.75,139.21 L353.25,139.34 L353.75,139.50 L354.25,139.71 L354.75,139.96 L355.25,140.26 L355.75,140.59 L356.25,140.97 L356.75,141.39 L357.25,141.85 L357.75,142.36 L358.25,142.91 L358.75,143.50 L359.25,144.13 L359.75,144.80 L360.25,145.51 L360.75,146.26 L361.25,147.04 L361.75,147.86 L362.25,148.71 L362.75,149.60 L363.25,150.51 L363.75,151.45 L364.25,152.41 L364.75,153.40 L365.25,154.41 L365.75,155.44 L366.25,156.49 L366.75,157.55 L367.25,158.62 L367.75,159.71 L368.25,160.80 L368.75,161.90 L369.25,163.00 L369.75,164.11 L370.25,165.23 L370.75,166.35 L371.25,167.47 L371.75,168.59 L372.25,169.72 L372.75,170.85 L373.25,171.99 L373.75,173.14 L374.25,174.29 L374.75,175.46 L375.25,176.64 L375.75,177.84 L376.25,179.06 L376.75,180.30 L377.25,181.57 L377.75,182.87 L378.25,184.20 L378.75,185.57 L379.25,186.98 L379.75,188.44 L380.25,189.93 L380.75,191.48 L381.25,193.08 L381.75,194.73 L382.25,196.43 L382.75,198.18 L383.25,199.99 L383.75,201.85 L384.25,203.76 L384.75,205.72 L385.25,207.72 L385.75,209.76 L386.25,211.84 L386.75,213.95 L387.25,216.09 L387.75,218.25 L388.25,220.43 L388.75,222.61 L389.25,224.80 L389.75,226.98 L390.25,229.16 L390.75,231.31 L391.25,233.45 L391.75,235.57 L392.25,237.65 L392.75,239.69 L393.25,241.70 L393.75,243.67 L394.25,245.60 L394.75,247.48 L395.25,249.32 L395.75,251.12 L396.25,252.87 L396.75,254.59 L397.25,256.26 L397.75,257.90 L398.25,259.51 L398.75,261.09 L399.25,262.65 L399.75,264.18 L400.25,265.70 L400.75,267.20 L401.25,268.70 L401.75,270.18 L402.25,271.66 L402.75,273.14 L403.25,274.61 L403.75,276.09 L404.25,277.56 L404.75,279.04 L405.25,280.51 L405.75,281.98 L406.25,283.45 L406.75,284.91 L407.25,286.36 L407.75,287.80 L408.25,289.22 L408.75,290.62 L409.25,292.01 L409.75,293.37 L410.25,294.70 L410.75,296.00 L411.25,297.27 L411.75,298.50 L412.25,299.70 L412.75,300.86 L413.25,301.99 L413.75,303.07 L414.25,304.12 L414.75,305.13 L415.25,306.11 L415.75,307.05 L416.25,307.96 L416.75,308.84 L417.25,309.69 L417.75,310.52 L418.25,311.32 L418.75,312.11 L419.25,312.88 L419.75,313.64 L420.25,314.39 L420.75,315.13 L421.25,315.88 L421.75,316.62 L422.25,317.37 L422.75,318.12 L423.25,318.88 L423.75,319.65 L424.25,320.44 L424.75,321.24 L425.25,322.06 L425.75,322.89 L426.25,323.75 L426.75,324.63 L427.25,325.52 L427.75,326.44 L428.25,327.38 L428.75,328.34 L429.25,329.33 L429.75,330.33 L430.25,331.36 L430.75,332.40 L431.25,333.47 L431.75,334.56 L432.25,335.66 L432.75,336.78 L433.25,337.91 L433.75,339.06 L434.25,340.23 L434.75,341.40 L435.25,342.59 L435.75,343.78 L436.25,344.98 L436.75,346.19 L437.25,347.39 L437.75,348.61 L438.25,349.82 L438.75,351.03 L439.25,352.24 L439.75,353.45 L440.25,354.65 L440.75,355.84 L441.25,357.03 L441.75,358.21 L442.25,359.37 L442.75,360.52 L443.25,361.66 L443.75,362.79 L444.25,363.90 L444.75,364.99 L445.25,366.07 L445.75,367.12 L446.25,368.16 L446.75,369.18 L447.25,370.17 L447.75,371.14 L448.25,372.10 L448.75,373.03 L449.25,373.93 L449.75,374.82 L450.25,375.68 L450.75,376.51 L451.25,377.32 L451.75,378.11 L452.25,378.88 L452.75,379.62 L453.25,380.34 L453.75,381.03 L454.25,381.70 L454.75,382.35 L455.25,382.98 L455.75,383.58 L456.25,384.17 L456.75,384.73 L457.25,385.27 L457.75,385.79 L458.25,386.29 L458.75,386.78 L459.25,387.25 L459.75,387.69 L460.25,388.13 L460.75,388.54 L461.25,388.95 L461.75,389.33 L462.25,389.71 L462.75,390.07 L463.25,390.41 L463.75,390.75 L464.25,391.08 L464.75,391.39 L465.25,391.70 L465.75,391.99 L466.25,392.28 L466.75,392.56 L467.25,392.84 L467.75,393.11 L468.25,393.37 L468.75,393.63 L469.25,393.88 L469.75,394.13 L470.25,394.37 L470.75,394.61 L471.25,394.85 L471.75,395.09 L472.25,395.33 L472.75,395.56 L473.25,395.79 L473.75,396.02 L474.25,396.25 L474.75,396.48 L475.25,396.71 L475.75,396.94 L476.25,397.18 L476.75,397.41 L477.25,397.64 L477.75,397.87 L478.25,398.10 L478.75,398.34 L479.25,398.57 L479.75,398.81 L480.25,399.04 L480.75,399.28 L481.25,399.52 L481.75,399.76 L482.25,400.00 L482.75,400.24 L483.25,400.48 L483.75,400.72 L484.25,400.96 L484.75,401.21 L485.25,401.45 L485.75,401.69 L486.25,401.93 L486.75,402.18 L487.25,402.42 L487.75,402.66 L488.25,402.90 L488.75,403.14 L489.25,403.38 L489.75,403.62 L490.25,403.86 L490.75,404.09 L491.25,404.33 L491.75,404.56 L492.25,404.79 L492.75,405.02 L493.25,405.25 L493.75,405.47 L494.25,405.69 L494.75,405.91 L495.25,406.13 L495.75,406.35 L496.25,406.56 L496.75,406.77 L497.25,406.97 L497.75,407.17 L498.25,407.37 L498.75,407.57 L499.25,407.76 L499.75,407.95 L500.25,408.14 L500.75,408.32 L501.25,408.50 L501.75,408.67 L502.25,408.84 L502.75,409.01 L503.25,409.17 L503.75,409.33 L504.25,409.49 L504.75,409.64 L505.25,409.79 L505.75,409.93 L506.25,410.07 L506.75,410.21 L507.25,410.34 L507.75,410.47 L508.25,410.60 L508.75,410.72 L509.25,410.84 L509.75,410.96 L510.25,411.07 L510.75,411.17 L511.25,411.28 L511.75,411.38 L512.25,411.48 L512.75,411.57 L513.25,411.66 L513.75,411.75 L514.25,411.84 L514.75,411.92 L515.25,412.00 L515.75,412.07 L516.25,412.15 L516.75,412.22 L517.25,412.29 L517.75,412.35 L518.25,412.42 L518.75,412.48 L519.25,412.53 L519.75,412.59 L520.25,412.64 L520.75,412.69 L521.25,412.74 L521.75,412.79 L522.25,412.84 L522.75,412.88 L523.25,412.92 L523.75,412.96 L524.25,413.00 L524.75,413.04 L525.25,413.07 L525.75,413.10 L526.25,413.14 L526.75,413.17 L527.25,413.20 L527.75,413.22 L528.25,413.25 L528.75,413.28 L529.25,413.30 L529.75,413.32 L530.25,413.35 L530.75,413.37 L531.25,413.39 L531.75,413.41 L532.25,413.43 L532.75,413.44 L533.25,413.46 L533.75,413.48 L534.25,413.49 L534.75,413.51 L535.25,413.52 L535.75,413.54 L536.25,413.55 L536.75,413.56 L537.25,413.57 L537.75,413.58 L538.25,413.60 L538.75,413.61 L539.25,413.62 L539.75,413.63 L540.25,413.64 L540.75,413.65" stroke="#ff0000" stroke-width="2.2"/>
<path d="M110.75,413.14 L111.25,413.13 L111.75,413.11 L112.25,413.10 L112.75,413.08 L113.25,413.07 L113.75,413.05 L114.25,413.03 L114.75,413.02 L115.25,413.00 L115.75,412.99 L116.25,412.97 L116.75,412.96 L117.25,412.94 L117.75,412.93 L118.25,412.91 L118.75,412.90 L119.25,412.88 L119.75,412.87 L120.25,412.85 L120.75,412.84 L121.25,412.82 L121.75,412.81 L122.25,412.80 L122.75,412.78 L123.25,412.77 L123.75,412.75 L124.25,412.74 L124.75,412.73 L125.25,412.71 L125.75,412.70 L126.25,412.69 L126.75,412.68 L127.25,412.66 L127.75,412.65 L128.25,412.64 L128.75,412.63 L129.25,412.62 L129.75,412.61 L130.25,412.60 L130.75,412.58 L131.25,412.57 L131.75,412.56 L132.25,412.55 L132.75,412.55 L133.25,412.54 L133.75,412.53 L134.25,412.52 L134.75,412.51 L135.25,412.50 L135.75,412.49 L136.25,412.49 L136.75,412.48 L137.25,412.47 L137.75,412.47 L138.25,412.46 L138.75,412.46 L139.25,412.45 L139.75,412.44 L140.25,412.44 L140.75,412.44 L141.25,412.43 L141.75,412.43 L142.25,412.42 L142.75,412.42 L143.25,412.42 L143.75,412.42 L144.25,412.41 L144.75,412.41 L145.25,412.41 L145.75,412.41 L146.25,412.41 L146.75,412.41 L147.25,412.41 L147.75,412.41 L148.25,412.41 L148.75,412.41 L149.25,412.41 L149.75,412.42 L150.25,412.42 L150.75,412.42 L151.25,412.42 L151.75,412.43 L152.25,412.43 L152.75,412.44 L153.25,412.44 L153.75,412.44 L154.25,412.45 L154.75,412.46 L155.25,412.46 L155.75,412.47 L156.25,412.47 L156.75,412.48 L157.25,412.49 L157.75,412.50 L158.25,412.50 L158.75,412.51 L159.25,412.52 L159.75,412.53 L160.25,412.54 L160.75,412.55 L161.25,412.56 L161.75,412.57 L162.25,412.58 L162.75,412.59 L163.25,412.60 L163.75,412.61 L164.25,412.62 L164.75,412.63 L165.25,412.64 L165.75,412.65 L166.25,412.66 L166.75,412.68 L167.25,412.69 L167.75,412.70 L168.25,412.72 L168.75,412.73 L169.25,412.74 L169.75,412.75 L170.25,412.77 L170.75,412.78 L171.25,412.80 L171.75,412.81 L172.25,412.82 L172.75,412.84 L173.25,412.85 L173.75,412.87 L174.25,412.88 L174.75,412.90 L175.25,412.91 L175.75,412.93 L176.25,412.94 L176.75,412.96 L177.25,412.97 L177.75,412.99 L178.25,413.00 L178.75,413.02 L179.25,413.03 L179.75,413.05 L180.25,413.06 L180.75,413.07 L181.25,413.09 L181.75,413.10 L182.25,413.11 L182.75,413.13 L183.25,413.14 L183.75,413.15 L184.25,413.16 L184.75,413.17 L185.25,413.18 L185.75,413.19 L186.25,413.20 L186.75,413.20 L187.25,413.21 L187.75,413.21 L188.25,413.21 L188.75,413.21 L189.25,413.20 L189.75,413.20 L190.25,413.18 L190.75,413.17 L191.25,413.15 L191.75,413.13 L192.25,413.10 L192.75,413.07 L193.25,413.03 L193.75,412.99 L194.25,412.94 L194.75,412.88 L195.25,412.81 L195.75,412.74 L196.25,412.66 L196.75,412.56 L197.25,412.46 L197.75,412.34 L198.25,412.22 L198.75,412.08 L199.25,411.93 L199.75,411.77 L200.25,411.59 L200.75,411.39 L201.25,411.19 L201.75,410.97 L202.25,410.73 L202.75,410.47 L203.25,410.20 L203.75,409.92 L204.25,409.61 L204.75,409.30 L205.25,408.96 L205.75,408.61 L206.25,408.25 L206.75,407.87 L207.25,407.47 L207.75,407.06 L208.25,406.64 L208.75,406.21 L209.25,405.76 L209.75,405.31 L210.25,404.84 L210.75,404.37 L211.25,403.89 L211.75,403.41 L212.25,402.92 L212.75,402.42 L213.25,401.93 L213.75,401.43 L214.25,400.93 L214.75,400.44 L215.25,399.94 L215.75,399.45 L216.25,398.96 L216.75,398.48 L217.25,398.00 L217.75,397.52 L218.25,397.05 L218.75,396.58 L219.25,396.12 L219.75,395.65 L220.25,395.20 L220.75,394.74 L221.25,394.29 L221.75,393.83 L222.25,393.38 L222.75,392.92 L223.25,392.45 L223.75,391.99 L224.25,391.51 L224.75,391.03 L225.25,390.53 L225.75,390.02 L226.25,389.50 L226.75,388.96 L227.25,388.41 L227.75,387.83 L228.25,387.23 L228.75,386.61 L229.25,385.97 L229.75,385.30 L230.25,384.61 L230.75,383.88 L231.25,383.13 L231.75,382.36 L232.25,381.55 L232.75,380.72 L233.25,379.85 L233.75,378.96 L234.25,378.04 L234.75,377.10 L235.25,376.12 L235.75,375.13 L236.25,374.10 L236.75,373.06 L237.25,371.99 L237.75,370.90 L238.25,369.79 L238.75,368.66 L239.25,367.51 L239.75,366.35 L240.25,365.18 L240.75,363.99 L241.25,362.80 L241.75,361.59 L242.25,360.38 L242.75,359.16 L243.25,357.93 L243.75,356.70 L244.25,355.46 L244.75,354.22 L245.25,352.97 L245.75,351.72 L246.25,350.47 L246.75,349.22 L247.25,347.96 L247.75,346.70 L248.25,345.43 L248.75,344.15 L249.25,342.87 L249.75,341.58 L250.25,340.28 L250.75,338.97 L251.25,337.65 L251.75,336.31 L252.25,334.95 L252.75,333.57 L253.25,332.18 L253.75,330.76 L254.25,329.31 L254.75,327.83 L255.25,326.33 L255.75,324.79 L256.25,323.21 L256.75,321.60 L257.25,319.95 L257.75,318.25 L258.25,316.51 L258.75,314.73 L259.25,312.90 L259.75,311.02 L260.25,309.09 L260.75,307.11 L261.25,305.08 L261.75,302.99 L262.25,300.85 L262.75,298.66 L263.25,296.41 L263.75,294.11 L264.25,291.76 L264.75,289.35 L265.25,286.89 L265.75,284.39 L266.25,281.83 L266.75,279.22 L267.25,276.57 L267.75,273.88 L268.25,271.14 L268.75,268.35 L269.25,265.53 L269.75,262.68 L270.25,259.78 L270.75,256.86 L271.25,253.90 L271.75,250.91 L272.25,247.89 L272.75,244.85 L273.25,241.78 L273.75,238.69 L274.25,235.58 L274.75,232.45 L275.25,229.29 L275.75,226.12 L276.25,222.93 L276.75,219.73 L277.25,216.50 L277.75,213.26 L278.25,210.01 L278.75,206.74 L279.25,203.45 L279.75,200.15 L280.25,196.83 L280.75,193.49 L281.25,190.15 L281.75,186.78 L282.25,183.41 L282.75,180.02 L283.25,176.62 L283.75,173.21 L284.25,169.79 L284.75,166.36 L285.25,162.94 L285.75,159.51 L286.25,156.08 L286.75,152.66 L287.25,149.25 L287.75,145.85 L288.25,142.47 L288.75,139.12 L289.25,135.80 L289.75,132.51 L290.25,129.27 L290.75,126.07 L291.25,122.93 L291.75,119.85 L292.25,116.84 L292.75,113.91 L293.25,111.06 L293.75,108.29 L294.25,105.62 L294.75,103.05 L295.25,100.58 L295.75,98.23 L296.25,95.98 L296.75,93.86 L297.25,91.85 L297.75,89.96 L298.25,88.20 L298.75,86.56 L299.25,85.04 L299.75,83.65 L300.25,82.38 L300.75,81.22 L301.25,80.18 L301.75,79.24 L302.25,78.42 L302.75,77.69 L303.25,77.06 L303.75,76.51 L304.25,76.04 L304.75,75.65 L305.25,75.32 L305.75,75.05 L306.25,74.83 L306.75,74.66 L307.25,74.51 L307.75,74.40 L308.25,74.31 L308.75,74.23 L309.25,74.16 L309.75,74.09 L310.25,74.01 L310.75,73.94 L311.25,73.84 L311.75,73.74 L312.25,73.62 L312.75,73.47 L313.25,73.31 L313.75,73.13 L314.25,72.93 L314.75,72.70 L315.25,72.46 L315.75,72.21 L316.25,71.94 L316.75,71.66 L317.25,71.38 L317.75,71.09 L318.25,70.80 L318.75,70.52 L319.25,70.26 L319.75,70.01 L320.25,69.78 L320.75,69.58 L321.25,69.42 L321.75,69.29 L322.25,69.20 L322.75,69.16 L323.25,69.18 L323.75,69.25 L324.25,69.39 L324.75,69.59 L325.25,69.86 L325.75,70.20 L326.25,70.62 L326.75,71.11 L327.25,71.69 L327.75,72.35 L328.25,73.09 L328.75,73.92 L329.25,74.83 L329.75,75.83 L330.25,76.91 L330.75,78.08 L331.25,79.33 L331.75,80.67 L332.25,82.08 L332.75,83.58 L333.25,85.15 L333.75,86.80 L334.25,88.53 L334.75,90.32 L335.25,92.18 L335.75,94.11 L336.25,96.09 L336.75,98.14 L337.25,100.24 L337.75,102.39 L338.25,104.59 L338.75,106.84 L339.25,109.12 L339.75,111.45 L340.25,113.80 L340.75,116.19 L341.25,118.61 L341.75,121.06 L342.25,123.52 L342.75,126.00 L343.25,128.50 L343.75,131.02 L344.25,133.54 L344.75,136.08 L345.25,138.62 L345.75,141.16 L346.25,143.71 L346.75,146.26 L347.25,148.81 L347.75,151.36 L348.25,153.91 L348.75,156.45 L349.25,158.99 L349.75,161.53 L350.25,164.06 L350.75,166.59 L351.25,169.11 L351.75,171.63 L352.25,174.14 L352.75,176.65 L353.25,179.16 L353.75,181.66 L354.25,184.16 L354.75,186.67 L355.25,189.17 L355.75,191.67 L356.25,194.17 L356.75,196.68 L357.25,199.19 L357.75,201.70 L358.25,204.22 L358.75,206.75 L359.25,209.28 L359.75,211.83 L360.25,214.38 L360.75,216.95 L361.25,219.52 L361.75,222.11 L362.25,224.71 L362.75,227.32 L363.25,229.95 L363.75,232.59 L364.25,235.24 L364.75,237.91 L365.25,240.58 L365.75,243.28 L366.25,245.98 L366.75,248.70 L367.25,251.42 L367.75,254.16 L368.25,256.90 L368.75,259.66 L369.25,262.42 L369.75,265.18 L370.25,267.95 L370.75,270.72 L371.25,273.49 L371.75,276.26 L372.25,279.02 L372.75,281.78 L373.25,284.53 L373.75,287.27 L374.25,289.99 L374.75,292.70 L375.25,295.40 L375.75,298.07 L376.25,300.73 L376.75,303.36 L377.25,305.96 L377.75,308.54 L378.25,311.09 L378.75,313.60 L379.25,316.08 L379.75,318.52 L380.25,320.93 L380.75,323.29 L381.25,325.62 L381.75,327.89 L382.25,330.13 L382.75,332.32 L383.25,334.46 L383.75,336.55 L384.25,338.59 L384.75,340.59 L385.25,342.53 L385.75,344.42 L386.25,346.26 L386.75,348.04 L387.25,349.78 L387.75,351.46 L388.25,353.09 L388.75,354.66 L389.25,356.19 L389.75,357.66 L390.25,359.09 L390.75,360.46 L391.25,361.79 L391.75,363.07 L392.25,364.30 L392.75,365.49 L393.25,366.63 L393.75,367.73 L394.25,368.79 L394.75,369.81 L395.25,370.79 L395.75,371.73 L396.25,372.64 L396.75,373.51 L397.25,374.35 L397.75,375.17 L398.25,375.95 L398.75,376.70 L399.25,377.43 L399.75,378.13 L400.25,378.82 L400.75,379.48 L401.25,380.12 L401.75,380.74 L402.25,381.35 L402.75,381.94 L403.25,382.52 L403.75,383.08 L404.25,383.63 L404.75,384.18 L405.25,384.71 L405.75,385.24 L406.25,385.76 L406.75,386.27 L407.25,386.78 L407.75,387.28 L408.25,387.78 L408.75,388.27 L409.25,388.76 L409.75,389.25 L410.25,389.74 L410.75,390.23 L411.25,390.71 L411.75,391.20 L412.25,391.68 L412.75,392.16 L413.25,392.65 L413.75,393.13 L414.25,393.61 L414.75,394.09 L415.25,394.57 L415.75,395.04 L416.25,395.52 L416.75,395.99 L417.25,396.47 L417.75,396.94 L418.25,397.41 L418.75,397.87 L419.25,398.34 L419.75,398.80 L420.25,399.26 L420.75,399.71 L421.25,400.16 L421.75,400.60 L422.25,401.04 L422.75,401.47 L423.25,401.90 L423.75,402.32 L424.25,402.74 L424.75,403.15 L425.25,403.55 L425.75,403.94 L426.25,404.33 L426.75,404.71 L427.25,405.08 L427.75,405.44 L428.25,405.80 L428.75,406.14 L429.25,406.48 L429.75,406.81 L430.25,407.13 L430.75,407.44 L431.25,407.74 L431.75,408.03 L432.25,408.31 L432.75,408.58 L433.25,408.84 L433.75,409.10 L434.25,409.34 L434.75,409.57 L435.25,409.80 L435.75,410.01 L436.25,410.22 L436.75,410.41 L437.25,410.60 L437.75,410.78 L438.25,410.95 L438.75,411.11 L439.25,411.26 L439.75,411.41 L440.25,411.54 L440.75,411.67 L441.25,411.79 L441.75,411.90 L442.25,412.01 L442.75,412.10 L443.25,412.20 L443.75,412.28 L444.25,412.36 L444.75,412.43 L445.25,412.50 L445.75,412.56 L446.25,412.61 L446.75,412.66 L447.25,412.71 L447.75,412.75 L448.25,412.79 L448.75,412.82 L449.25,412.85 L449.75,412.88 L450.25,412.90 L450.75,412.92 L451.25,412.94 L451.75,412.96 L452.25,412.98 L452.75,412.99 L453.25,413.00 L453.75,413.01 L454.25,413.02 L454.75,413.03 L455.25,413.04 L455.75,413.05 L456.25,413.06 L456.75,413.07 L457.25,413.08 L457.75,413.09 L458.25,413.10 L458.75,413.11 L459.25,413.12 L459.75,413.13" stroke="rgba(50,50,0,0.85)" stroke-width="1.9" transform="translate(0.7,0.7)"/>
<path d="M110.75,413.14 L111.25,413.13 L111.75,413.11 L112.25,413.10 L112.75,413.08 L113.25,413.07 L113.75,413.05 L114.25,413.03 L114.75,413.02 L115.25,413.00 L115.75,412.99 L116.25,412.97 L116.75,412.96 L117.25,412.94 L117.75,412.93 L118.25,412.91 L118.75,412.90 L119.25,412.88 L119.75,412.87 L120.25,412.85 L120.75,412.84 L121.25,412.82 L121.75,412.81 L122.25,412.80 L122.75,412.78 L123.25,412.77 L123.75,412.75 L124.25,412.74 L124.75,412.73 L125.25,412.71 L125.75,412.70 L126.25,412.69 L126.75,412.68 L127.25,412.66 L127.75,412.65 L128.25,412.64 L128.75,412.63 L129.25,412.62 L129.75,412.61 L130.25,412.60 L130.75,412.58 L131.25,412.57 L131.75,412.56 L132.25,412.55 L132.75,412.55 L133.25,412.54 L133.75,412.53 L134.25,412.52 L134.75,412.51 L135.25,412.50 L135.75,412.49 L136.25,412.49 L136.75,412.48 L137.25,412.47 L137.75,412.47 L138.25,412.46 L138.75,412.46 L139.25,412.45 L139.75,412.44 L140.25,412.44 L140.75,412.44 L141.25,412.43 L141.75,412.43 L142.25,412.42 L142.75,412.42 L143.25,412.42 L143.75,412.42 L144.25,412.41 L144.75,412.41 L145.25,412.41 L145.75,412.41 L146.25,412.41 L146.75,412.41 L147.25,412.41 L147.75,412.41 L148.25,412.41 L148.75,412.41 L149.25,412.41 L149.75,412.42 L150.25,412.42 L150.75,412.42 L151.25,412.42 L151.75,412.43 L152.25,412.43 L152.75,412.44 L153.25,412.44 L153.75,412.44 L154.25,412.45 L154.75,412.46 L155.25,412.46 L155.75,412.47 L156.25,412.47 L156.75,412.48 L157.25,412.49 L157.75,412.50 L158.25,412.50 L158.75,412.51 L159.25,412.52 L159.75,412.53 L160.25,412.54 L160.75,412.55 L161.25,412.56 L161.75,412.57 L162.25,412.58 L162.75,412.59 L163.25,412.60 L163.75,412.61 L164.25,412.62 L164.75,412.63 L165.25,412.64 L165.75,412.65 L166.25,412.66 L166.75,412.68 L167.25,412.69 L167.75,412.70 L168.25,412.72 L168.75,412.73 L169.25,412.74 L169.75,412.75 L170.25,412.77 L170.75,412.78 L171.25,412.80 L171.75,412.81 L172.25,412.82 L172.75,412.84 L173.25,412.85 L173.75,412.87 L174.25,412.88 L174.75,412.90 L175.25,412.91 L175.75,412.93 L176.25,412.94 L176.75,412.96 L177.25,412.97 L177.75,412.99 L178.25,413.00 L178.75,413.02 L179.25,413.03 L179.75,413.05 L180.25,413.06 L180.75,413.07 L181.25,413.09 L181.75,413.10 L182.25,413.11 L182.75,413.13 L183.25,413.14 L183.75,413.15 L184.25,413.16 L184.75,413.17 L185.25,413.18 L185.75,413.19 L186.25,413.20 L186.75,413.20 L187.25,413.21 L187.75,413.21 L188.25,413.21 L188.75,413.21 L189.25,413.20 L189.75,413.20 L190.25,413.18 L190.75,413.17 L191.25,413.15 L191.75,413.13 L192.25,413.10 L192.75,413.07 L193.25,413.03 L193.75,412.99 L194.25,412.94 L194.75,412.88 L195.25,412.81 L195.75,412.74 L196.25,412.66 L196.75,412.56 L197.25,412.46 L197.75,412.34 L198.25,412.22 L198.75,412.08 L199.25,411.93 L199.75,411.77 L200.25,411.59 L200.75,411.39 L201.25,411.19 L201.75,410.97 L202.25,410.73 L202.75,410.47 L203.25,410.20 L203.75,409.92 L204.25,409.61 L204.75,409.30 L205.25,408.96 L205.75,408.61 L206.25,408.25 L206.75,407.87 L207.25,407.47 L207.75,407.06 L208.25,406.64 L208.75,406.21 L209.25,405.76 L209.75,405.31 L210.25,404.84 L210.75,404.37 L211.25,403.89 L211.75,403.41 L212.25,402.92 L212.75,402.42 L213.25,401.93 L213.75,401.43 L214.25,400.93 L214.75,400.44 L215.25,399.94 L215.75,399.45 L216.25,398.96 L216.75,398.48 L217.25,398.00 L217.75,397.52 L218.25,397.05 L218.75,396.58 L219.25,396.12 L219.75,395.65 L220.25,395.20 L220.75,394.74 L221.25,394.29 L221.75,393.83 L222.25,393.38 L222.75,392.92 L223.25,392.45 L223.75,391.99 L224.25,391.51 L224.75,391.03 L225.25,390.53 L225.75,390.02 L226.25,389.50 L226.75,388.96 L227.25,388.41 L227.75,387.83 L228.25,387.23 L228.75,386.61 L229.25,385.97 L229.75,385.30 L230.25,384.61 L230.75,383.88 L231.25,383.13 L231.75,382.36 L232.25,381.55 L232.75,380.72 L233.25,379.85 L233.75,378.96 L234.25,378.04 L234.75,377.10 L235.25,376.12 L235.75,375.13 L236.25,374.10 L236.75,373.06 L237.25,371.99 L237.75,370.90 L238.25,369.79 L238.75,368.66 L239.25,367.51 L239.75,366.35 L240.25,365.18 L240.75,363.99 L241.25,362.80 L241.75,361.59 L242.25,360.38 L242.75,359.16 L243.25,357.93 L243.75,356.70 L244.25,355.46 L244.75,354.22 L245.25,352.97 L245.75,351.72 L246.25,350.47 L246.75,349.22 L247.25,347.96 L247.75,346.70 L248.25,345.43 L248.75,344.15 L249.25,342.87 L249.75,341.58 L250.25,340.28 L250.75,338.97 L251.25,337.65 L251.75,336.31 L252.25,334.95 L252.75,333.57 L253.25,332.18 L253.75,330.76 L254.25,329.31 L254.75,327.83 L255.25,326.33 L255.75,324.79 L256.25,323.21 L256.75,321.60 L257.25,319.95 L257.75,318.25 L258.25,316.51 L258.75,314.73 L259.25,312.90 L259.75,311.02 L260.25,309.09 L260.75,307.11 L261.25,305.08 L261.75,302.99 L262.25,300.85 L262.75,298.66 L263.25,296.41 L263.75,294.11 L264.25,291.76 L264.75,289.35 L265.25,286.89 L265.75,284.39 L266.25,281.83 L266.75,279.22 L267.25,276.57 L267.75,273.88 L268.25,271.14 L268.75,268.35 L269.25,265.53 L269.75,262.68 L270.25,259.78 L270.75,256.86 L271.25,253.90 L271.75,250.91 L272.25,247.89 L272.75,244.85 L273.25,241.78 L273.75,238.69 L274.25,235.58 L274.75,232.45 L275.25,229.29 L275.75,226.12 L276.25,222.93 L276.75,219.73 L277.25,216.50 L277.75,213.26 L278.25,210.01 L278.75,206.74 L279.25,203.45 L279.75,200.15 L280.25,196.83 L280.75,193.49 L281.25,190.15 L281.75,186.78 L282.25,183.41 L282.75,180.02 L283.25,176.62 L283.75,173.21 L284.25,169.79 L284.75,166.36 L285.25,162.94 L285.75,159.51 L286.25,156.08 L286.75,152.66 L287.25,149.25 L287.75,145.85 L288.25,142.47 L288.75,139.12 L289.25,135.80 L289.75,132.51 L290.25,129.27 L290.75,126.07 L291.25,122.93 L291.75,119.85 L292.25,116.84 L292.75,113.91 L293.25,111.06 L293.75,108.29 L294.25,105.62 L294.75,103.05 L295.25,100.58 L295.75,98.23 L296.25,95.98 L296.75,93.86 L297.25,91.85 L297.75,89.96 L298.25,88.20 L298.75,86.56 L299.25,85.04 L299.75,83.65 L300.25,82.38 L300.75,81.22 L301.25,80.18 L301.75,79.24 L302.25,78.42 L302.75,77.69 L303.25,77.06 L303.75,76.51 L304.25,76.04 L304.75,75.65 L305.25,75.32 L305.75,75.05 L306.25,74.83 L306.75,74.66 L307.25,74.51 L307.75,74.40 L308.25,74.31 L308.75,74.23 L309.25,74.16 L309.75,74.09 L310.25,74.01 L310.75,73.94 L311.25,73.84 L311.75,73.74 L312.25,73.62 L312.75,73.47 L313.25,73.31 L313.75,73.13 L314.25,72.93 L314.75,72.70 L315.25,72.46 L315.75,72.21 L316.25,71.94 L316.75,71.66 L317.25,71.38 L317.75,71.09 L318.25,70.80 L318.75,70.52 L319.25,70.26 L319.75,70.01 L320.25,69.78 L320.75,69.58 L321.25,69.42 L321.75,69.29 L322.25,69.20 L322.75,69.16 L323.25,69.18 L323.75,69.25 L324.25,69.39 L324.75,69.59 L325.25,69.86 L325.75,70.20 L326.25,70.62 L326.75,71.11 L327.25,71.69 L327.75,72.35 L328.25,73.09 L328.75,73.92 L329.25,74.83 L329.75,75.83 L330.25,76.91 L330.75,78.08 L331.25,79.33 L331.75,80.67 L332.25,82.08 L332.75,83.58 L333.25,85.15 L333.75,86.80 L334.25,88.53 L334.75,90.32 L335.25,92.18 L335.75,94.11 L336.25,96.09 L336.75,98.14 L337.25,100.24 L337.75,102.39 L338.25,104.59 L338.75,106.84 L339.25,109.12 L339.75,111.45 L340.25,113.80 L340.75,116.19 L341.25,118.61 L341.75,121.06 L342.25,123.52 L342.75,126.00 L343.25,128.50 L343.75,131.02 L344.25,133.54 L344.75,136.08 L345.25,138.62 L345.75,141.16 L346.25,143.71 L346.75,146.26 L347.25,148.81 L347.75,151.36 L348.25,153.91 L348.75,156.45 L349.25,158.99 L349.75,161.53 L350.25,164.06 L350.75,166.59 L351.25,169.11 L351.75,171.63 L352.25,174.14 L352.75,176.65 L353.25,179.16 L353.75,181.66 L354.25,184.16 L354.75,186.67 L355.25,189.17 L355.75,191.67 L356.25,194.17 L356.75,196.68 L357.25,199.19 L357.75,201.70 L358.25,204.22 L358.75,206.75 L359.25,209.28 L359.75,211.83 L360.25,214.38 L360.75,216.95 L361.25,219.52 L361.75,222.11 L362.25,224.71 L362.75,227.32 L363.25,229.95 L363.75,232.59 L364.25,235.24 L364.75,237.91 L365.25,240.58 L365.75,243.28 L366.25,245.98 L366.75,248.70 L367.25,251.42 L367.75,254.16 L368.25,256.90 L368.75,259.66 L369.25,262.42 L369.75,265.18 L370.25,267.95 L370.75,270.72 L371.25,273.49 L371.75,276.26 L372.25,279.02 L372.75,281.78 L373.25,284.53 L373.75,287.27 L374.25,289.99 L374.75,292.70 L375.25,295.40 L375.75,298.07 L376.25,300.73 L376.75,303.36 L377.25,305.96 L377.75,308.54 L378.25,311.09 L378.75,313.60 L379.25,316.08 L379.75,318.52 L380.25,320.93 L380.75,323.29 L381.25,325.62 L381.75,327.89 L382.25,330.13 L382.75,332.32 L383.25,334.46 L383.75,336.55 L384.25,338.59 L384.75,340.59 L385.25,342.53 L385.75,344.42 L386.25,346.26 L386.75,348.04 L387.25,349.78 L387.75,351.46 L388.25,353.09 L388.75,354.66 L389.25,356.19 L389.75,357.66 L390.25,359.09 L390.75,360.46 L391.25,361.79 L391.75,363.07 L392.25,364.30 L392.75,365.49 L393.25,366.63 L393.75,367.73 L394.25,368.79 L394.75,369.81 L395.25,370.79 L395.75,371.73 L396.25,372.64 L396.75,373.51 L397.25,374.35 L397.75,375.17 L398.25,375.95 L398.75,376.70 L399.25,377.43 L399.75,378.13 L400.25,378.82 L400.75,379.48 L401.25,380.12 L401.75,380.74 L402.25,381.35 L402.75,381.94 L403.25,382.52 L403.75,383.08 L404.25,383.63 L404.75,384.18 L405.25,384.71 L405.75,385.24 L406.25,385.76 L406.75,386.27 L407.25,386.78 L407.75,387.28 L408.25,387.78 L408.75,388.27 L409.25,388.76 L409.75,389.25 L410.25,389.74 L410.75,390.23 L411.25,390.71 L411.75,391.20 L412.25,391.68 L412.75,392.16 L413.25,392.65 L413.75,393.13 L414.25,393.61 L414.75,394.09 L415.25,394.57 L415.75,395.04 L416.25,395.52 L416.75,395.99 L417.25,396.47 L417.75,396.94 L418.25,397.41 L418.75,397.87 L419.25,398.34 L419.75,398.80 L420.25,399.26 L420.75,399.71 L421.25,400.16 L421.75,400.60 L422.25,401.04 L422.75,401.47 L423.25,401.90 L423.75,402.32 L424.25,402.74 L424.75,403.15 L425.25,403.55 L425.75,403.94 L426.25,404.33 L426.75,404.71 L427.25,405.08 L427.75,405.44 L428.25,405.80 L428.75,406.14 L429.25,406.48 L429.75,406.81 L430.25,407.13 L430.75,407.44 L431.25,407.74 L431.75,408.03 L432.25,408.31 L432.75,408.58 L433.25,408.84 L433.75,409.10 L434.25,409.34 L434.75,409.57 L435.25,409.80 L435.75,410.01 L436.25,410.22 L436.75,410.41 L437.25,410.60 L437.75,410.78 L438.25,410.95 L438.75,411.11 L439.25,411.26 L439.75,411.41 L440.25,411.54 L440.75,411.67 L441.25,411.79 L441.75,411.90 L442.25,412.01 L442.75,412.10 L443.25,412.20 L443.75,412.28 L444.25,412.36 L444.75,412.43 L445.25,412.50 L445.75,412.56 L446.25,412.61 L446.75,412.66 L447.25,412.71 L447.75,412.75 L448.25,412.79 L448.75,412.82 L449.25,412.85 L449.75,412.88 L450.25,412.90 L450.75,412.92 L451.25,412.94 L451.75,412.96 L452.25,412.98 L452.75,412.99 L453.25,413.00 L453.75,413.01 L454.25,413.02 L454.75,413.03 L455.25,413.04 L455.75,413.05 L456.25,413.06 L456.75,413.07 L457.25,413.08 L457.75,413.09 L458.25,413.10 L458.75,413.11 L459.25,413.12 L459.75,413.13" stroke="#ffff00" stroke-width="1.9"/>
</g>
<text x="181.7" y="437.8" text-anchor="middle" class="t">1600</text><text x="274.8" y="437.8" text-anchor="middle" class="t">1800</text><text x="367.9" y="437.8" text-anchor="middle" class="t">2000</text><text x="461.0" y="437.8" text-anchor="middle" class="t">2200</text><text x="552.6" y="437.8" text-anchor="middle" class="t">2400</text><text x="76.8" y="419.7" text-anchor="end" class="t">0.000</text><text x="76.8" y="345.79999999999995" text-anchor="end" class="t">0.001</text><text x="76.8" y="271.79999999999995" text-anchor="end" class="t">0.002</text><text x="76.8" y="197.8" text-anchor="end" class="t">0.003</text><text x="76.8" y="123.80000000000001" text-anchor="end" class="t">0.004</text>
<text x="325.5" y="459" text-anchor="middle" class="l">Simulated Performances</text>
<text transform="translate(29.7,236.2) rotate(-90)" text-anchor="middle" class="l">Density</text>
<rect x="22.5" y="24.5" width="30" height="11" fill="#808080" stroke="#e2e24a" stroke-width="1.3"/>
<text x="64" y="34.7" class="t">Caldy Simulated Performances</text>
<rect x="305.5" y="24.5" width="31" height="11" fill="#7b7fbf" stroke="#e04858" stroke-width="1.3"/>
<text x="348" y="34.7" class="t">London Scottish Simulated Performances</text>
</svg>
</body></html>
